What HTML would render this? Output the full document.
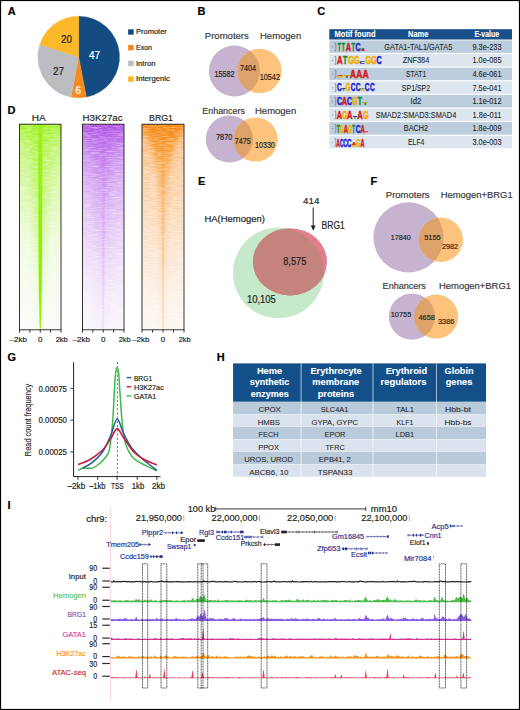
<!DOCTYPE html>
<html><head><meta charset="utf-8"><style>
html,body{margin:0;padding:0;background:#fff;}
svg{display:block;font-family:"Liberation Sans", sans-serif;}
</style></head><body>
<svg width="520" height="710" viewBox="0 0 520 710">
<rect x="0" y="0" width="520" height="710" fill="#fff"/>
<text x="7.7" y="14.8" font-size="11" text-anchor="start" fill="#000" font-weight="bold" stroke="#000" stroke-width="0.18">A</text>
<path d="M78.7,57.0 L78.70,16.20 A40.8,40.8 0 0 1 86.35,97.08 Z" fill="#124c80" stroke="#124c80" stroke-width="0.4" stroke-linejoin="round"/>
<path d="M78.7,57.0 L86.35,97.08 A40.8,40.8 0 0 1 71.05,97.08 Z" fill="#f68b1f" stroke="#f68b1f" stroke-width="0.4" stroke-linejoin="round"/>
<path d="M78.7,57.0 L71.05,97.08 A40.8,40.8 0 0 1 39.90,44.39 Z" fill="#bcbdc1" stroke="#bcbdc1" stroke-width="0.4" stroke-linejoin="round"/>
<path d="M78.7,57.0 L39.90,44.39 A40.8,40.8 0 0 1 78.70,16.20 Z" fill="#fbb829" stroke="#fbb829" stroke-width="0.4" stroke-linejoin="round"/>
<text x="94.6" y="58.8" font-size="10" text-anchor="middle" fill="#fff" font-weight="normal" stroke="#fff" stroke-width="0.18">47</text>
<text x="78.2" y="93.9" font-size="10" text-anchor="middle" fill="#fff" font-weight="normal" stroke="#fff" stroke-width="0.18">6</text>
<text x="58.5" y="74.7" font-size="10" text-anchor="middle" fill="#231f20" font-weight="normal" stroke="#231f20" stroke-width="0.18">27</text>
<text x="66.6" y="43.4" font-size="10" text-anchor="middle" fill="#231f20" font-weight="normal" stroke="#231f20" stroke-width="0.18">20</text>
<rect x="128.1" y="29.3" width="5.6" height="5.4" fill="#124c80"/>
<text x="136" y="34.2" font-size="7.2" text-anchor="start" fill="#231f20" font-weight="normal" textLength="30.8" lengthAdjust="spacingAndGlyphs" stroke="#231f20" stroke-width="0.18">Promoter</text>
<rect x="128.1" y="45.0" width="5.6" height="5.4" fill="#f68b1f"/>
<text x="136" y="49.9" font-size="7.2" text-anchor="start" fill="#231f20" font-weight="normal" textLength="16" lengthAdjust="spacingAndGlyphs" stroke="#231f20" stroke-width="0.18">Exon</text>
<rect x="128.1" y="60.7" width="5.6" height="5.4" fill="#bcbdc1"/>
<text x="136" y="65.6" font-size="7.2" text-anchor="start" fill="#231f20" font-weight="normal" textLength="19.5" lengthAdjust="spacingAndGlyphs" stroke="#231f20" stroke-width="0.18">Intron</text>
<rect x="128.1" y="76.4" width="5.6" height="5.4" fill="#fbb829"/>
<text x="136" y="81.3" font-size="7.2" text-anchor="start" fill="#231f20" font-weight="normal" textLength="33.8" lengthAdjust="spacingAndGlyphs" stroke="#231f20" stroke-width="0.18">Intergenic</text>
<text x="197.6" y="14.9" font-size="11" text-anchor="start" fill="#000" font-weight="bold" stroke="#000" stroke-width="0.18">B</text>
<text x="204.8" y="39.2" font-size="9" text-anchor="start" fill="#3a3a3a" font-weight="normal" textLength="44" lengthAdjust="spacingAndGlyphs" stroke="#3a3a3a" stroke-width="0.18">Promoters</text>
<text x="260" y="39.2" font-size="9" text-anchor="start" fill="#3a3a3a" font-weight="normal" textLength="41.2" lengthAdjust="spacingAndGlyphs" stroke="#3a3a3a" stroke-width="0.18">Hemogen</text>
<clipPath id="b1"><circle cx="234.4" cy="71" r="25.5"/></clipPath>
<circle cx="234.4" cy="71" r="25.5" fill="#c6b3cf"/>
<circle cx="259.5" cy="71" r="22.2" fill="#fdc27b"/>
<circle cx="259.5" cy="71" r="22.2" fill="#dea36b" clip-path="url(#b1)"/>
<text x="224.6" y="77.0" font-size="8.3" text-anchor="middle" fill="#231f20" font-weight="normal" textLength="20" lengthAdjust="spacingAndGlyphs" stroke="#231f20" stroke-width="0.18">15582</text>
<text x="248" y="71.0" font-size="8.3" text-anchor="middle" fill="#231f20" font-weight="normal" textLength="16" lengthAdjust="spacingAndGlyphs" stroke="#231f20" stroke-width="0.18">7404</text>
<text x="269.8" y="80.0" font-size="8.3" text-anchor="middle" fill="#231f20" font-weight="normal" textLength="20.3" lengthAdjust="spacingAndGlyphs" stroke="#231f20" stroke-width="0.18">10542</text>
<text x="202.3" y="113.8" font-size="9" text-anchor="start" fill="#3a3a3a" font-weight="normal" textLength="42.6" lengthAdjust="spacingAndGlyphs" stroke="#3a3a3a" stroke-width="0.18">Enhancers</text>
<text x="255" y="113.8" font-size="9" text-anchor="start" fill="#3a3a3a" font-weight="normal" textLength="41.2" lengthAdjust="spacingAndGlyphs" stroke="#3a3a3a" stroke-width="0.18">Hemogen</text>
<clipPath id="b2"><circle cx="229.4" cy="139" r="23.6"/></clipPath>
<circle cx="229.4" cy="139" r="23.6" fill="#c6b3cf"/>
<circle cx="255.6" cy="139.5" r="22.1" fill="#fdc27b"/>
<circle cx="255.6" cy="139.5" r="22.1" fill="#dea36b" clip-path="url(#b2)"/>
<text x="224.2" y="139.6" font-size="8.3" text-anchor="middle" fill="#231f20" font-weight="normal" textLength="16.5" lengthAdjust="spacingAndGlyphs" stroke="#231f20" stroke-width="0.18">7870</text>
<text x="242.7" y="144.0" font-size="8.3" text-anchor="middle" fill="#231f20" font-weight="normal" textLength="16" lengthAdjust="spacingAndGlyphs" stroke="#231f20" stroke-width="0.18">7475</text>
<text x="264.9" y="147.7" font-size="8.3" text-anchor="middle" fill="#231f20" font-weight="normal" textLength="19.8" lengthAdjust="spacingAndGlyphs" stroke="#231f20" stroke-width="0.18">10330</text>
<text x="317.2" y="15.2" font-size="11" text-anchor="start" fill="#000" font-weight="bold" stroke="#000" stroke-width="0.18">C</text>
<rect x="329.3" y="29.2" width="182.7" height="10.3" fill="#194f88"/>
<text x="355" y="36.6" font-size="8.2" text-anchor="middle" fill="#fff" font-weight="bold" textLength="41" lengthAdjust="spacingAndGlyphs" stroke="#fff" stroke-width="0.1">Motif found</text>
<text x="418.2" y="36.6" font-size="8.2" text-anchor="middle" fill="#fff" font-weight="bold" textLength="20.3" lengthAdjust="spacingAndGlyphs" stroke="#fff" stroke-width="0.1">Name</text>
<text x="486.8" y="36.6" font-size="8.2" text-anchor="middle" fill="#fff" font-weight="bold" textLength="24.8" lengthAdjust="spacingAndGlyphs" stroke="#fff" stroke-width="0.1">E-value</text>
<rect x="329.3" y="40.40" width="182.7" height="12.5" fill="#bccddd"/>
<text x="418.3" y="49.6" font-size="8.6" text-anchor="middle" fill="#222" font-weight="normal" textLength="67.9" lengthAdjust="spacingAndGlyphs" stroke="#222" stroke-width="0.08">GATA1-TAL1/GATA5</text>
<text x="487" y="49.6" font-size="8.6" text-anchor="middle" fill="#222" font-weight="normal" textLength="29" lengthAdjust="spacingAndGlyphs" stroke="#222" stroke-width="0.08">9.3e-233</text>
<path d="M331.9,46.9 h1.3 M334.5,43.0 h1.3 v7.6 h-1.3" stroke="#707070" stroke-width="0.7" fill="none"/>
<rect x="329.3" y="54.03" width="182.7" height="12.5" fill="#dde6ef"/>
<text x="416" y="63.2" font-size="8.6" text-anchor="middle" fill="#222" font-weight="normal" textLength="26.7" lengthAdjust="spacingAndGlyphs" stroke="#222" stroke-width="0.08">ZNF384</text>
<text x="487" y="63.2" font-size="8.6" text-anchor="middle" fill="#222" font-weight="normal" textLength="29" lengthAdjust="spacingAndGlyphs" stroke="#222" stroke-width="0.08">1.0e-085</text>
<path d="M331.9,60.5 h1.3 M334.5,56.6 h1.3 v7.6 h-1.3" stroke="#707070" stroke-width="0.7" fill="none"/>
<rect x="329.3" y="67.66" width="182.7" height="12.5" fill="#bccddd"/>
<text x="416.1" y="76.9" font-size="8.6" text-anchor="middle" fill="#222" font-weight="normal" textLength="20.2" lengthAdjust="spacingAndGlyphs" stroke="#222" stroke-width="0.08">STAT1</text>
<text x="487" y="76.9" font-size="8.6" text-anchor="middle" fill="#222" font-weight="normal" textLength="29" lengthAdjust="spacingAndGlyphs" stroke="#222" stroke-width="0.08">4.6e-061</text>
<path d="M331.9,74.2 h1.3 M334.5,70.3 h1.3 v7.6 h-1.3" stroke="#707070" stroke-width="0.7" fill="none"/>
<rect x="329.3" y="81.29" width="182.7" height="12.5" fill="#dde6ef"/>
<text x="416" y="90.5" font-size="8.6" text-anchor="middle" fill="#222" font-weight="normal" textLength="28.3" lengthAdjust="spacingAndGlyphs" stroke="#222" stroke-width="0.08">SP1/SP2</text>
<text x="487" y="90.5" font-size="8.6" text-anchor="middle" fill="#222" font-weight="normal" textLength="29" lengthAdjust="spacingAndGlyphs" stroke="#222" stroke-width="0.08">7.5e-041</text>
<path d="M331.9,87.8 h1.3 M334.5,83.9 h1.3 v7.6 h-1.3" stroke="#707070" stroke-width="0.7" fill="none"/>
<rect x="329.3" y="94.92" width="182.7" height="12.5" fill="#bccddd"/>
<text x="415.9" y="104.1" font-size="8.6" text-anchor="middle" fill="#222" font-weight="normal" textLength="10.8" lengthAdjust="spacingAndGlyphs" stroke="#222" stroke-width="0.08">Id2</text>
<text x="487" y="104.1" font-size="8.6" text-anchor="middle" fill="#222" font-weight="normal" textLength="29" lengthAdjust="spacingAndGlyphs" stroke="#222" stroke-width="0.08">1.1e-012</text>
<path d="M331.9,101.4 h1.3 M334.5,97.5 h1.3 v7.6 h-1.3" stroke="#707070" stroke-width="0.7" fill="none"/>
<rect x="329.3" y="108.55" width="182.7" height="12.5" fill="#dde6ef"/>
<text x="416" y="117.8" font-size="8.6" text-anchor="middle" fill="#222" font-weight="normal" textLength="80.5" lengthAdjust="spacingAndGlyphs" stroke="#222" stroke-width="0.08">SMAD2:SMAD3:SMAD4</text>
<text x="487" y="117.8" font-size="8.6" text-anchor="middle" fill="#222" font-weight="normal" textLength="29" lengthAdjust="spacingAndGlyphs" stroke="#222" stroke-width="0.08">1.8e-011</text>
<path d="M331.9,115.1 h1.3 M334.5,111.2 h1.3 v7.6 h-1.3" stroke="#707070" stroke-width="0.7" fill="none"/>
<rect x="329.3" y="122.18" width="182.7" height="12.5" fill="#bccddd"/>
<text x="415.9" y="131.4" font-size="8.6" text-anchor="middle" fill="#222" font-weight="normal" textLength="24.2" lengthAdjust="spacingAndGlyphs" stroke="#222" stroke-width="0.08">BACH2</text>
<text x="487" y="131.4" font-size="8.6" text-anchor="middle" fill="#222" font-weight="normal" textLength="29" lengthAdjust="spacingAndGlyphs" stroke="#222" stroke-width="0.08">1.8e-009</text>
<path d="M331.9,128.7 h1.3 M334.5,124.8 h1.3 v7.6 h-1.3" stroke="#707070" stroke-width="0.7" fill="none"/>
<rect x="329.3" y="135.81" width="182.7" height="12.5" fill="#dde6ef"/>
<text x="416.2" y="145.0" font-size="8.6" text-anchor="middle" fill="#222" font-weight="normal" textLength="16.2" lengthAdjust="spacingAndGlyphs" stroke="#222" stroke-width="0.08">ELF4</text>
<text x="487" y="145.0" font-size="8.6" text-anchor="middle" fill="#222" font-weight="normal" textLength="29" lengthAdjust="spacingAndGlyphs" stroke="#222" stroke-width="0.08">3.0e-003</text>
<path d="M331.9,142.3 h1.3 M334.5,138.4 h1.3 v7.6 h-1.3" stroke="#707070" stroke-width="0.7" fill="none"/>
<text transform="translate(337.65,50.60) scale(0.492,1.047)" font-size="10.0" font-weight="bold" fill="#0f8a2e" stroke="#0f8a2e" stroke-width="0.5">T</text>
<text transform="translate(341.64,50.60) scale(0.508,1.047)" font-size="10.0" font-weight="bold" fill="#0f8a2e" stroke="#0f8a2e" stroke-width="0.5">T</text>
<text transform="translate(345.72,50.60) scale(0.729,1.047)" font-size="10.0" font-weight="bold" fill="#d7191c" stroke="#d7191c" stroke-width="0.5">A</text>
<text transform="translate(351.54,50.60) scale(0.576,1.047)" font-size="10.0" font-weight="bold" fill="#0f8a2e" stroke="#0f8a2e" stroke-width="0.5">T</text>
<text transform="translate(355.51,50.60) scale(0.703,1.047)" font-size="10.0" font-weight="bold" fill="#1f1fd0" stroke="#1f1fd0" stroke-width="0.5">C</text>
<text transform="translate(360.86,50.60) scale(0.580,0.276)" font-size="10.0" font-weight="bold" fill="#d7191c" stroke="#d7191c" stroke-width="0.5">A</text>
<text transform="translate(360.93,48.60) scale(0.661,0.233)" font-size="10.0" font-weight="bold" fill="#0f8a2e" stroke="#0f8a2e" stroke-width="0.5">T</text>
<text transform="translate(337.01,63.60) scale(0.789,1.047)" font-size="10.0" font-weight="bold" fill="#d7191c" stroke="#d7191c" stroke-width="0.5">A</text>
<text transform="translate(342.92,63.60) scale(0.695,1.047)" font-size="10.0" font-weight="bold" fill="#0f8a2e" stroke="#0f8a2e" stroke-width="0.5">T</text>
<text transform="translate(347.97,63.60) scale(0.815,1.047)" font-size="10.0" font-weight="bold" fill="#f2a900" stroke="#f2a900" stroke-width="0.5">G</text>
<text transform="translate(354.22,63.60) scale(0.681,1.047)" font-size="10.0" font-weight="bold" fill="#f2a900" stroke="#f2a900" stroke-width="0.5">G</text>
<text transform="translate(359.50,63.60) scale(0.734,0.276)" font-size="10.0" font-weight="bold" fill="#1f1fd0" stroke="#1f1fd0" stroke-width="0.5">C</text>
<text transform="translate(359.71,61.60) scale(0.814,0.233)" font-size="10.0" font-weight="bold" fill="#0f8a2e" stroke="#0f8a2e" stroke-width="0.5">T</text>
<text transform="translate(365.50,63.60) scale(0.726,1.047)" font-size="10.0" font-weight="bold" fill="#f2a900" stroke="#f2a900" stroke-width="0.5">G</text>
<text transform="translate(370.99,63.60) scale(0.756,1.047)" font-size="10.0" font-weight="bold" fill="#f2a900" stroke="#f2a900" stroke-width="0.5">G</text>
<text transform="translate(376.61,63.60) scale(0.719,1.047)" font-size="10.0" font-weight="bold" fill="#1f1fd0" stroke="#1f1fd0" stroke-width="0.5">C</text>
<text transform="translate(337.39,77.60) scale(0.756,0.276)" font-size="10.0" font-weight="bold" fill="#f2a900" stroke="#f2a900" stroke-width="0.5">G</text>
<text transform="translate(337.52,75.60) scale(0.759,0.233)" font-size="10.0" font-weight="bold" fill="#d7191c" stroke="#d7191c" stroke-width="0.5">A</text>
<text transform="translate(343.90,77.60) scale(0.932,0.276)" font-size="10.0" font-weight="bold" fill="#0f8a2e" stroke="#0f8a2e" stroke-width="0.5">T</text>
<text transform="translate(343.67,75.60) scale(0.815,0.233)" font-size="10.0" font-weight="bold" fill="#f2a900" stroke="#f2a900" stroke-width="0.5">G</text>
<text transform="translate(350.00,77.60) scale(0.833,1.047)" font-size="10.0" font-weight="bold" fill="#d7191c" stroke="#d7191c" stroke-width="0.5">A</text>
<text transform="translate(356.20,77.60) scale(0.833,1.047)" font-size="10.0" font-weight="bold" fill="#d7191c" stroke="#d7191c" stroke-width="0.5">A</text>
<text transform="translate(362.49,77.60) scale(0.863,1.047)" font-size="10.0" font-weight="bold" fill="#d7191c" stroke="#d7191c" stroke-width="0.5">A</text>
<text transform="translate(336.93,91.00) scale(0.657,1.047)" font-size="10.0" font-weight="bold" fill="#1f1fd0" stroke="#1f1fd0" stroke-width="0.5">C</text>
<text transform="translate(341.63,91.00) scale(0.593,0.276)" font-size="10.0" font-weight="bold" fill="#0f8a2e" stroke="#0f8a2e" stroke-width="0.5">T</text>
<text transform="translate(341.48,89.00) scale(0.535,0.233)" font-size="10.0" font-weight="bold" fill="#1f1fd0" stroke="#1f1fd0" stroke-width="0.5">C</text>
<text transform="translate(345.65,91.00) scale(0.607,1.047)" font-size="10.0" font-weight="bold" fill="#f2a900" stroke="#f2a900" stroke-width="0.5">G</text>
<text transform="translate(350.73,91.00) scale(0.657,1.047)" font-size="10.0" font-weight="bold" fill="#1f1fd0" stroke="#1f1fd0" stroke-width="0.5">C</text>
<text transform="translate(355.72,91.00) scale(0.673,1.047)" font-size="10.0" font-weight="bold" fill="#1f1fd0" stroke="#1f1fd0" stroke-width="0.5">C</text>
<text transform="translate(360.58,91.00) scale(0.533,0.276)" font-size="10.0" font-weight="bold" fill="#f2a900" stroke="#f2a900" stroke-width="0.5">G</text>
<text transform="translate(360.73,89.00) scale(0.610,0.233)" font-size="10.0" font-weight="bold" fill="#0f8a2e" stroke="#0f8a2e" stroke-width="0.5">T</text>
<text transform="translate(364.83,91.00) scale(0.657,1.047)" font-size="10.0" font-weight="bold" fill="#1f1fd0" stroke="#1f1fd0" stroke-width="0.5">C</text>
<text transform="translate(369.93,91.00) scale(0.657,1.047)" font-size="10.0" font-weight="bold" fill="#1f1fd0" stroke="#1f1fd0" stroke-width="0.5">C</text>
<text transform="translate(336.91,105.30) scale(0.703,1.047)" font-size="10.0" font-weight="bold" fill="#1f1fd0" stroke="#1f1fd0" stroke-width="0.5">C</text>
<text transform="translate(341.82,105.30) scale(0.759,1.047)" font-size="10.0" font-weight="bold" fill="#d7191c" stroke="#d7191c" stroke-width="0.5">A</text>
<text transform="translate(347.01,105.30) scale(0.703,1.047)" font-size="10.0" font-weight="bold" fill="#1f1fd0" stroke="#1f1fd0" stroke-width="0.5">C</text>
<text transform="translate(352.32,105.30) scale(0.681,1.047)" font-size="10.0" font-weight="bold" fill="#f2a900" stroke="#f2a900" stroke-width="0.5">G</text>
<text transform="translate(357.82,105.30) scale(0.695,1.047)" font-size="10.0" font-weight="bold" fill="#0f8a2e" stroke="#0f8a2e" stroke-width="0.5">T</text>
<text transform="translate(362.60,105.30) scale(0.864,0.276)" font-size="10.0" font-weight="bold" fill="#0f8a2e" stroke="#0f8a2e" stroke-width="0.5">T</text>
<text transform="translate(362.39,103.30) scale(0.756,0.233)" font-size="10.0" font-weight="bold" fill="#f2a900" stroke="#f2a900" stroke-width="0.5">G</text>
<text transform="translate(336.72,119.20) scale(0.729,1.047)" font-size="10.0" font-weight="bold" fill="#d7191c" stroke="#d7191c" stroke-width="0.5">A</text>
<text transform="translate(342.22,119.20) scale(0.681,1.047)" font-size="10.0" font-weight="bold" fill="#f2a900" stroke="#f2a900" stroke-width="0.5">G</text>
<text transform="translate(347.12,119.20) scale(0.759,1.047)" font-size="10.0" font-weight="bold" fill="#d7191c" stroke="#d7191c" stroke-width="0.5">A</text>
<text transform="translate(353.03,119.20) scale(0.610,0.276)" font-size="10.0" font-weight="bold" fill="#0f8a2e" stroke="#0f8a2e" stroke-width="0.5">T</text>
<text transform="translate(352.87,117.20) scale(0.550,0.233)" font-size="10.0" font-weight="bold" fill="#1f1fd0" stroke="#1f1fd0" stroke-width="0.5">C</text>
<text transform="translate(357.22,119.20) scale(0.759,1.047)" font-size="10.0" font-weight="bold" fill="#d7191c" stroke="#d7191c" stroke-width="0.5">A</text>
<text transform="translate(362.90,119.20) scale(0.726,1.047)" font-size="10.0" font-weight="bold" fill="#f2a900" stroke="#f2a900" stroke-width="0.5">G</text>
<text transform="translate(336.84,133.30) scale(0.508,1.047)" font-size="10.0" font-weight="bold" fill="#0f8a2e" stroke="#0f8a2e" stroke-width="0.5">T</text>
<text transform="translate(339.91,133.30) scale(0.474,1.047)" font-size="10.0" font-weight="bold" fill="#f2a900" stroke="#f2a900" stroke-width="0.5">G</text>
<text transform="translate(343.86,133.30) scale(0.580,1.047)" font-size="10.0" font-weight="bold" fill="#d7191c" stroke="#d7191c" stroke-width="0.5">A</text>
<text transform="translate(348.31,133.30) scale(0.474,1.047)" font-size="10.0" font-weight="bold" fill="#f2a900" stroke="#f2a900" stroke-width="0.5">G</text>
<text transform="translate(352.25,133.30) scale(0.458,1.047)" font-size="10.0" font-weight="bold" fill="#0f8a2e" stroke="#0f8a2e" stroke-width="0.5">T</text>
<text transform="translate(355.72,133.30) scale(0.673,1.047)" font-size="10.0" font-weight="bold" fill="#1f1fd0" stroke="#1f1fd0" stroke-width="0.5">C</text>
<text transform="translate(360.46,133.30) scale(0.595,1.047)" font-size="10.0" font-weight="bold" fill="#d7191c" stroke="#d7191c" stroke-width="0.5">A</text>
<text transform="translate(364.91,133.30) scale(0.474,0.145)" font-size="10.0" font-weight="bold" fill="#f2a900" stroke="#f2a900" stroke-width="0.5">G</text>
<text transform="translate(364.99,132.30) scale(0.476,0.131)" font-size="10.0" font-weight="bold" fill="#d7191c" stroke="#d7191c" stroke-width="0.5">A</text>
<text transform="translate(336.17,147.20) scale(0.536,1.047)" font-size="10.0" font-weight="bold" fill="#d7191c" stroke="#d7191c" stroke-width="0.5">A</text>
<text transform="translate(339.90,147.20) scale(0.489,1.047)" font-size="10.0" font-weight="bold" fill="#1f1fd0" stroke="#1f1fd0" stroke-width="0.5">C</text>
<text transform="translate(343.27,147.20) scale(0.550,1.047)" font-size="10.0" font-weight="bold" fill="#1f1fd0" stroke="#1f1fd0" stroke-width="0.5">C</text>
<text transform="translate(347.04,147.20) scale(0.627,1.047)" font-size="10.0" font-weight="bold" fill="#1f1fd0" stroke="#1f1fd0" stroke-width="0.5">C</text>
<text transform="translate(351.88,147.20) scale(0.548,0.262)" font-size="10.0" font-weight="bold" fill="#f2a900" stroke="#f2a900" stroke-width="0.5">G</text>
<text transform="translate(351.97,145.40) scale(0.551,0.320)" font-size="10.0" font-weight="bold" fill="#d7191c" stroke="#d7191c" stroke-width="0.5">A</text>
<text transform="translate(356.16,147.20) scale(0.593,1.047)" font-size="10.0" font-weight="bold" fill="#f2a900" stroke="#f2a900" stroke-width="0.5">G</text>
<text transform="translate(360.46,147.20) scale(0.565,1.047)" font-size="10.0" font-weight="bold" fill="#d7191c" stroke="#d7191c" stroke-width="0.5">A</text>
<filter id="streak" x="0" y="0" width="1" height="1"><feTurbulence type="fractalNoise" baseFrequency="0.12 0.8" numOctaves="2" seed="5"/><feColorMatrix type="matrix" values="0 0 0 0 1  0 0 0 0 1  0 0 0 0 1  0 0 0 1.0 -0.42"/></filter>
<filter id="blur0.35" x="-50%" y="-5%" width="200%" height="110%"><feGaussianBlur stdDeviation="0.35"/></filter>
<filter id="blur0.6" x="-50%" y="-5%" width="200%" height="110%"><feGaussianBlur stdDeviation="0.6"/></filter>
<filter id="blur1" x="-50%" y="-5%" width="200%" height="110%"><feGaussianBlur stdDeviation="1"/></filter>
<filter id="blur2" x="-50%" y="-5%" width="200%" height="110%"><feGaussianBlur stdDeviation="2"/></filter>
<filter id="blur2.5" x="-50%" y="-5%" width="200%" height="110%"><feGaussianBlur stdDeviation="2.5"/></filter>
<filter id="blur3" x="-50%" y="-5%" width="200%" height="110%"><feGaussianBlur stdDeviation="3"/></filter>
<filter id="blur4" x="-50%" y="-5%" width="200%" height="110%"><feGaussianBlur stdDeviation="4"/></filter>
<text x="7.5" y="114.2" font-size="11" text-anchor="start" fill="#000" font-weight="bold" stroke="#000" stroke-width="0.18">D</text>
<text x="38.8" y="121" font-size="9.5" text-anchor="middle" fill="#231f20" font-weight="normal" textLength="14" lengthAdjust="spacingAndGlyphs" stroke="#231f20" stroke-width="0.18">HA</text>
<text x="102.6" y="121" font-size="9.5" text-anchor="middle" fill="#231f20" font-weight="normal" textLength="40" lengthAdjust="spacingAndGlyphs" stroke="#231f20" stroke-width="0.18">H3K27ac</text>
<text x="161" y="121" font-size="9.5" text-anchor="middle" fill="#231f20" font-weight="normal" textLength="24" lengthAdjust="spacingAndGlyphs" stroke="#231f20" stroke-width="0.18">BRG1</text>
<linearGradient id="hgv" x1="0" y1="0" x2="0" y2="1"><stop offset="0" stop-color="rgb(165,242,45)" stop-opacity="1"/><stop offset="0.04" stop-color="rgb(165,242,45)" stop-opacity="0.85"/><stop offset="0.12" stop-color="rgb(165,242,45)" stop-opacity="0.62"/><stop offset="0.25" stop-color="rgb(165,242,45)" stop-opacity="0.45"/><stop offset="0.4" stop-color="rgb(165,242,45)" stop-opacity="0.3"/><stop offset="0.55" stop-color="rgb(165,242,45)" stop-opacity="0.17"/><stop offset="0.75" stop-color="rgb(165,242,45)" stop-opacity="0.06"/><stop offset="1" stop-color="rgb(165,242,45)" stop-opacity="0.02"/></linearGradient>
<linearGradient id="hgg" x1="0" y1="0" x2="0" y2="1"><stop offset="0" stop-color="rgb(142,240,0)" stop-opacity="0.25"/><stop offset="0.3" stop-color="rgb(142,240,0)" stop-opacity="0.3"/><stop offset="0.7" stop-color="rgb(142,240,0)" stop-opacity="0.18"/><stop offset="1" stop-color="rgb(142,240,0)" stop-opacity="0.1"/></linearGradient>
<linearGradient id="hgs" x1="0" y1="0" x2="0" y2="1"><stop offset="0" stop-color="rgb(142,240,0)" stop-opacity="0.35"/><stop offset="0.15" stop-color="rgb(142,240,0)" stop-opacity="0.75"/><stop offset="0.5" stop-color="rgb(142,240,0)" stop-opacity="0.95"/><stop offset="1" stop-color="rgb(142,240,0)" stop-opacity="1"/></linearGradient>
<clipPath id="hgclip"><rect x="19.5" y="124.2" width="41.5" height="205.60000000000002"/></clipPath>
<g clip-path="url(#hgclip)">
<rect x="19.5" y="124.2" width="41.5" height="205.60000000000002" fill="#fcfcfc"/>
<rect x="19.5" y="124.2" width="41.5" height="205.60000000000002" fill="url(#hgv)"/>
<polygon points="28.25,119.2 52.25,119.2 42.25,329.8 38.25,329.8" fill="url(#hgg)" filter="url(#blur3)"/>
<rect x="19.5" y="124.2" width="41.5" height="205.60000000000002" fill="#fff" filter="url(#streak)"/>
<polygon points="38.05,120.00 38.25,180.00 38.45,250.00 38.75,290.00 39.85,331.00 40.65,331.00 41.75,290.00 42.05,250.00 42.25,180.00 42.45,120.00" fill="url(#hgs)" filter="url(#blur0.35)"/>
</g>
<rect x="19.5" y="124.2" width="41.5" height="205.60000000000002" fill="none" stroke="#231f20" stroke-width="0.9"/>
<line x1="19.50" y1="329.8" x2="19.50" y2="332.6" stroke="#231f20" stroke-width="0.9"/>
<line x1="29.88" y1="329.8" x2="29.88" y2="332.6" stroke="#231f20" stroke-width="0.9"/>
<line x1="40.25" y1="329.8" x2="40.25" y2="332.6" stroke="#231f20" stroke-width="0.9"/>
<line x1="50.62" y1="329.8" x2="50.62" y2="332.6" stroke="#231f20" stroke-width="0.9"/>
<line x1="61.00" y1="329.8" x2="61.00" y2="332.6" stroke="#231f20" stroke-width="0.9"/>
<text x="18.3" y="342.3" font-size="8" text-anchor="middle" fill="#231f20" font-weight="normal" textLength="17.4" lengthAdjust="spacingAndGlyphs" stroke="#231f20" stroke-width="0.18">–2kb</text>
<text x="40.2" y="342.3" font-size="8" text-anchor="middle" fill="#231f20" font-weight="normal" stroke="#231f20" stroke-width="0.18">0</text>
<text x="61.7" y="342.3" font-size="8" text-anchor="middle" fill="#231f20" font-weight="normal" textLength="11.9" lengthAdjust="spacingAndGlyphs" stroke="#231f20" stroke-width="0.18">2kb</text>
<linearGradient id="hpv" x1="0" y1="0" x2="0" y2="1"><stop offset="0" stop-color="rgb(176,82,232)" stop-opacity="1"/><stop offset="0.05" stop-color="rgb(176,82,232)" stop-opacity="0.8"/><stop offset="0.15" stop-color="rgb(176,82,232)" stop-opacity="0.58"/><stop offset="0.3" stop-color="rgb(176,82,232)" stop-opacity="0.42"/><stop offset="0.5" stop-color="rgb(176,82,232)" stop-opacity="0.27"/><stop offset="0.7" stop-color="rgb(176,82,232)" stop-opacity="0.15"/><stop offset="0.85" stop-color="rgb(176,82,232)" stop-opacity="0.08"/><stop offset="1" stop-color="rgb(176,82,232)" stop-opacity="0.04"/></linearGradient>
<linearGradient id="hpg" x1="0" y1="0" x2="0" y2="1"><stop offset="0" stop-color="rgb(176,82,232)" stop-opacity="0.5"/><stop offset="0.15" stop-color="rgb(176,82,232)" stop-opacity="0.32"/><stop offset="0.35" stop-color="rgb(176,82,232)" stop-opacity="0.2"/><stop offset="0.6" stop-color="rgb(176,82,232)" stop-opacity="0.1"/><stop offset="1" stop-color="rgb(176,82,232)" stop-opacity="0.04"/></linearGradient>
<linearGradient id="hps" x1="0" y1="0" x2="0" y2="1"><stop offset="0" stop-color="rgb(176,82,232)" stop-opacity="0.1"/><stop offset="0.5" stop-color="rgb(176,82,232)" stop-opacity="0.14"/><stop offset="1" stop-color="rgb(176,82,232)" stop-opacity="0.1"/></linearGradient>
<clipPath id="hpclip"><rect x="82.5" y="124.2" width="41.5" height="205.60000000000002"/></clipPath>
<g clip-path="url(#hpclip)">
<rect x="82.5" y="124.2" width="41.5" height="205.60000000000002" fill="#fcfcfc"/>
<rect x="82.5" y="124.2" width="41.5" height="205.60000000000002" fill="url(#hpv)"/>
<polygon points="81.25,119.00 86.25,135.00 92.25,160.00 95.75,200.00 98.25,260.00 99.75,331.00 106.75,331.00 108.25,260.00 110.75,200.00 114.25,160.00 120.25,135.00 125.25,119.00" fill="url(#hpg)" filter="url(#blur4)"/>
<rect x="82.5" y="124.2" width="41.5" height="205.60000000000002" fill="#fff" filter="url(#streak)"/>
<polygon points="101.25,119.2 105.25,119.2 104.00,331.8 102.50,331.8" fill="url(#hps)" filter="url(#blur0.6)"/>
</g>
<rect x="82.5" y="124.2" width="41.5" height="205.60000000000002" fill="none" stroke="#231f20" stroke-width="0.9"/>
<line x1="82.50" y1="329.8" x2="82.50" y2="332.6" stroke="#231f20" stroke-width="0.9"/>
<line x1="92.88" y1="329.8" x2="92.88" y2="332.6" stroke="#231f20" stroke-width="0.9"/>
<line x1="103.25" y1="329.8" x2="103.25" y2="332.6" stroke="#231f20" stroke-width="0.9"/>
<line x1="113.62" y1="329.8" x2="113.62" y2="332.6" stroke="#231f20" stroke-width="0.9"/>
<line x1="124.00" y1="329.8" x2="124.00" y2="332.6" stroke="#231f20" stroke-width="0.9"/>
<text x="81.3" y="342.3" font-size="8" text-anchor="middle" fill="#231f20" font-weight="normal" textLength="17.4" lengthAdjust="spacingAndGlyphs" stroke="#231f20" stroke-width="0.18">–2kb</text>
<text x="103.2" y="342.3" font-size="8" text-anchor="middle" fill="#231f20" font-weight="normal" stroke="#231f20" stroke-width="0.18">0</text>
<text x="124.7" y="342.3" font-size="8" text-anchor="middle" fill="#231f20" font-weight="normal" textLength="11.9" lengthAdjust="spacingAndGlyphs" stroke="#231f20" stroke-width="0.18">2kb</text>
<linearGradient id="hov" x1="0" y1="0" x2="0" y2="1"><stop offset="0" stop-color="rgb(247,137,25)" stop-opacity="0.95"/><stop offset="0.03" stop-color="rgb(247,137,25)" stop-opacity="0.75"/><stop offset="0.1" stop-color="rgb(247,137,25)" stop-opacity="0.52"/><stop offset="0.25" stop-color="rgb(247,137,25)" stop-opacity="0.38"/><stop offset="0.5" stop-color="rgb(247,137,25)" stop-opacity="0.25"/><stop offset="0.7" stop-color="rgb(247,137,25)" stop-opacity="0.15"/><stop offset="0.85" stop-color="rgb(247,137,25)" stop-opacity="0.08"/><stop offset="1" stop-color="rgb(247,137,25)" stop-opacity="0.04"/></linearGradient>
<linearGradient id="hog" x1="0" y1="0" x2="0" y2="1"><stop offset="0" stop-color="rgb(248,135,10)" stop-opacity="0.9"/><stop offset="0.1" stop-color="rgb(248,135,10)" stop-opacity="0.7"/><stop offset="0.2" stop-color="rgb(248,135,10)" stop-opacity="0.42"/><stop offset="0.35" stop-color="rgb(248,135,10)" stop-opacity="0.22"/><stop offset="0.6" stop-color="rgb(248,135,10)" stop-opacity="0.12"/><stop offset="1" stop-color="rgb(248,135,10)" stop-opacity="0.06"/></linearGradient>
<linearGradient id="hos" x1="0" y1="0" x2="0" y2="1"><stop offset="0" stop-color="rgb(248,135,10)" stop-opacity="0.2"/><stop offset="0.5" stop-color="rgb(248,135,10)" stop-opacity="0.2"/><stop offset="1" stop-color="rgb(248,135,10)" stop-opacity="0.18"/></linearGradient>
<clipPath id="hoclip"><rect x="142" y="124.2" width="42" height="205.60000000000002"/></clipPath>
<g clip-path="url(#hoclip)">
<rect x="142" y="124.2" width="42" height="205.60000000000002" fill="#fcfcfc"/>
<rect x="142" y="124.2" width="42" height="205.60000000000002" fill="url(#hov)"/>
<polygon points="139.00,119.00 144.00,128.00 150.00,140.00 154.00,155.00 157.00,175.00 158.50,210.00 159.50,260.00 160.50,331.00 165.50,331.00 166.50,260.00 167.50,210.00 169.00,175.00 172.00,155.00 176.00,140.00 182.00,128.00 187.00,119.00" fill="url(#hog)" filter="url(#blur2)"/>
<rect x="142" y="124.2" width="42" height="205.60000000000002" fill="#fff" filter="url(#streak)"/>
<polygon points="161.00,119.2 165.00,119.2 163.70,331.8 162.30,331.8" fill="url(#hos)" filter="url(#blur0.6)"/>
</g>
<rect x="142" y="124.2" width="42" height="205.60000000000002" fill="none" stroke="#231f20" stroke-width="0.9"/>
<line x1="142.00" y1="329.8" x2="142.00" y2="332.6" stroke="#231f20" stroke-width="0.9"/>
<line x1="152.50" y1="329.8" x2="152.50" y2="332.6" stroke="#231f20" stroke-width="0.9"/>
<line x1="163.00" y1="329.8" x2="163.00" y2="332.6" stroke="#231f20" stroke-width="0.9"/>
<line x1="173.50" y1="329.8" x2="173.50" y2="332.6" stroke="#231f20" stroke-width="0.9"/>
<line x1="184.00" y1="329.8" x2="184.00" y2="332.6" stroke="#231f20" stroke-width="0.9"/>
<text x="140.8" y="342.3" font-size="8" text-anchor="middle" fill="#231f20" font-weight="normal" textLength="17.4" lengthAdjust="spacingAndGlyphs" stroke="#231f20" stroke-width="0.18">–2kb</text>
<text x="163.0" y="342.3" font-size="8" text-anchor="middle" fill="#231f20" font-weight="normal" stroke="#231f20" stroke-width="0.18">0</text>
<text x="184.7" y="342.3" font-size="8" text-anchor="middle" fill="#231f20" font-weight="normal" textLength="11.9" lengthAdjust="spacingAndGlyphs" stroke="#231f20" stroke-width="0.18">2kb</text>
<text x="198" y="184.6" font-size="11" text-anchor="start" fill="#000" font-weight="bold" stroke="#000" stroke-width="0.18">E</text>
<text x="311.2" y="204.3" font-size="9.8" text-anchor="middle" fill="#231f20" font-weight="normal" textLength="16.2" lengthAdjust="spacingAndGlyphs" stroke="#231f20" stroke-width="0.18">414</text>
<line x1="313.2" y1="207.5" x2="313.2" y2="226" stroke="#231f20" stroke-width="1"/>
<polygon points="310.8,225.5 315.6,225.5 313.2,230.8" fill="#231f20"/>
<text x="321.6" y="229.1" font-size="10" text-anchor="start" fill="#231f20" font-weight="normal" textLength="23.1" lengthAdjust="spacingAndGlyphs" stroke="#231f20" stroke-width="0.18">BRG1</text>
<text x="204.4" y="222.4" font-size="9.6" text-anchor="start" fill="#231f20" font-weight="normal" textLength="60.5" lengthAdjust="spacingAndGlyphs" stroke="#231f20" stroke-width="0.18">HA(Hemogen)</text>
<clipPath id="eg"><circle cx="278.4" cy="272.9" r="45.4"/></clipPath>
<circle cx="278.4" cy="272.9" r="45.4" fill="#c6e9c9"/>
<ellipse cx="290" cy="261.8" rx="37" ry="33.6" fill="#df7f8e"/>
<ellipse cx="290" cy="261.8" rx="37" ry="33.6" fill="#c4847d" clip-path="url(#eg)"/>
<text x="294.8" y="264.8" font-size="10.4" text-anchor="middle" fill="#231f20" font-weight="normal" textLength="23.2" lengthAdjust="spacingAndGlyphs" stroke="#231f20" stroke-width="0.18">8,575</text>
<text x="261.4" y="302.8" font-size="10.4" text-anchor="middle" fill="#231f20" font-weight="normal" textLength="29" lengthAdjust="spacingAndGlyphs" stroke="#231f20" stroke-width="0.18">10,105</text>
<text x="370.6" y="184.7" font-size="11" text-anchor="start" fill="#000" font-weight="bold" stroke="#000" stroke-width="0.18">F</text>
<text x="385.8" y="198.3" font-size="9" text-anchor="start" fill="#3a3a3a" font-weight="normal" textLength="43.8" lengthAdjust="spacingAndGlyphs" stroke="#3a3a3a" stroke-width="0.18">Promoters</text>
<text x="440.7" y="198.3" font-size="9" text-anchor="start" fill="#3a3a3a" font-weight="normal" textLength="72" lengthAdjust="spacingAndGlyphs" stroke="#3a3a3a" stroke-width="0.18">Hemogen+BRG1</text>
<clipPath id="f1"><circle cx="408.5" cy="237.35" r="35.1"/></clipPath>
<circle cx="408.5" cy="237.35" r="35.1" fill="#c6b3cf"/>
<circle cx="440.8" cy="239.8" r="22.2" fill="#fdc27b"/>
<circle cx="440.8" cy="239.8" r="22.2" fill="#dea36b" clip-path="url(#f1)"/>
<text x="400.7" y="239.7" font-size="8.1" text-anchor="middle" fill="#231f20" font-weight="normal" textLength="20" lengthAdjust="spacingAndGlyphs" stroke="#231f20" stroke-width="0.18">17840</text>
<text x="432.5" y="239.7" font-size="8.1" text-anchor="middle" fill="#231f20" font-weight="normal" textLength="16.5" lengthAdjust="spacingAndGlyphs" stroke="#231f20" stroke-width="0.18">5155</text>
<text x="450" y="249.3" font-size="8.1" text-anchor="middle" fill="#231f20" font-weight="normal" textLength="16" lengthAdjust="spacingAndGlyphs" stroke="#231f20" stroke-width="0.18">2982</text>
<text x="382.6" y="289" font-size="9" text-anchor="start" fill="#3a3a3a" font-weight="normal" textLength="43.3" lengthAdjust="spacingAndGlyphs" stroke="#3a3a3a" stroke-width="0.18">Enhancers</text>
<text x="439" y="289" font-size="9" text-anchor="start" fill="#3a3a3a" font-weight="normal" textLength="72" lengthAdjust="spacingAndGlyphs" stroke="#3a3a3a" stroke-width="0.18">Hemogen+BRG1</text>
<clipPath id="f2"><circle cx="411.9" cy="316.6" r="23.1"/></clipPath>
<circle cx="411.9" cy="316.6" r="23.1" fill="#c6b3cf"/>
<circle cx="436.2" cy="316.6" r="22" fill="#fdc27b"/>
<circle cx="436.2" cy="316.6" r="22" fill="#dea36b" clip-path="url(#f2)"/>
<text x="401" y="316.6" font-size="8.1" text-anchor="middle" fill="#231f20" font-weight="normal" textLength="20.5" lengthAdjust="spacingAndGlyphs" stroke="#231f20" stroke-width="0.18">10755</text>
<text x="426.7" y="319.8" font-size="8.1" text-anchor="middle" fill="#231f20" font-weight="normal" textLength="16.6" lengthAdjust="spacingAndGlyphs" stroke="#231f20" stroke-width="0.18">4658</text>
<text x="446.2" y="323.6" font-size="8.1" text-anchor="middle" fill="#231f20" font-weight="normal" textLength="16.4" lengthAdjust="spacingAndGlyphs" stroke="#231f20" stroke-width="0.18">3386</text>
<text x="7.4" y="361" font-size="11" text-anchor="start" fill="#000" font-weight="bold" stroke="#000" stroke-width="0.18">G</text>
<line x1="73.6" y1="362.3" x2="73.6" y2="476.6" stroke="#231f20" stroke-width="1"/>
<line x1="73.1" y1="476.6" x2="160.5" y2="476.6" stroke="#231f20" stroke-width="1"/>
<line x1="78" y1="476.6" x2="78" y2="479.8" stroke="#231f20" stroke-width="0.9"/>
<text x="76.4" y="489.1" font-size="8.4" text-anchor="middle" fill="#231f20" font-weight="normal" textLength="17.8" lengthAdjust="spacingAndGlyphs" stroke="#231f20" stroke-width="0.18">–2kb</text>
<line x1="97.7" y1="476.6" x2="97.7" y2="479.8" stroke="#231f20" stroke-width="0.9"/>
<text x="97.3" y="489.1" font-size="8.4" text-anchor="middle" fill="#231f20" font-weight="normal" textLength="16.2" lengthAdjust="spacingAndGlyphs" stroke="#231f20" stroke-width="0.18">–1kb</text>
<line x1="117.1" y1="476.6" x2="117.1" y2="479.8" stroke="#231f20" stroke-width="0.9"/>
<text x="117.3" y="489.1" font-size="8.4" text-anchor="middle" fill="#231f20" font-weight="normal" textLength="12.6" lengthAdjust="spacingAndGlyphs" stroke="#231f20" stroke-width="0.18">TSS</text>
<line x1="137.2" y1="476.6" x2="137.2" y2="479.8" stroke="#231f20" stroke-width="0.9"/>
<text x="138" y="489.1" font-size="8.4" text-anchor="middle" fill="#231f20" font-weight="normal" textLength="12.5" lengthAdjust="spacingAndGlyphs" stroke="#231f20" stroke-width="0.18">1kb</text>
<line x1="156.9" y1="476.6" x2="156.9" y2="479.8" stroke="#231f20" stroke-width="0.9"/>
<text x="158.5" y="489.1" font-size="8.4" text-anchor="middle" fill="#231f20" font-weight="normal" textLength="13.1" lengthAdjust="spacingAndGlyphs" stroke="#231f20" stroke-width="0.18">2kb</text>
<line x1="70.4" y1="388.4" x2="73.6" y2="388.4" stroke="#231f20" stroke-width="0.9"/>
<text x="67" y="391.5" font-size="8.6" text-anchor="end" fill="#231f20" font-weight="normal" textLength="28.5" lengthAdjust="spacingAndGlyphs" stroke="#231f20" stroke-width="0.18">0.00075</text>
<line x1="70.4" y1="420.2" x2="73.6" y2="420.2" stroke="#231f20" stroke-width="0.9"/>
<text x="67" y="423.3" font-size="8.6" text-anchor="end" fill="#231f20" font-weight="normal" textLength="28.5" lengthAdjust="spacingAndGlyphs" stroke="#231f20" stroke-width="0.18">0.00050</text>
<line x1="70.4" y1="451.9" x2="73.6" y2="451.9" stroke="#231f20" stroke-width="0.9"/>
<text x="67" y="455.0" font-size="8.6" text-anchor="end" fill="#231f20" font-weight="normal" textLength="28.5" lengthAdjust="spacingAndGlyphs" stroke="#231f20" stroke-width="0.18">0.00025</text>
<text transform="translate(30.8,420) rotate(-90)" font-size="9.6" text-anchor="middle" fill="#231f20" stroke="#231f20" stroke-width="0.12" textLength="72.4" lengthAdjust="spacingAndGlyphs">Read count frequency</text>
<line x1="117.4" y1="362" x2="117.4" y2="476" stroke="#444" stroke-width="0.75" stroke-dasharray="2.2,2"/>
<path d="M78.00,470.30 C78.88,469.95 81.02,468.55 83.30,468.20 C85.58,467.85 89.30,468.73 91.70,468.20 C94.10,467.67 95.58,466.58 97.70,465.00 C99.82,463.42 102.57,460.82 104.40,458.70 C106.23,456.58 107.63,455.48 108.70,452.30 C109.77,449.12 110.10,445.23 110.80,439.60 C111.50,433.97 112.27,427.32 112.90,418.50 C113.53,409.68 114.15,394.28 114.60,386.70 C115.05,379.12 115.18,376.22 115.60,373.00 C116.02,369.78 116.60,367.40 117.10,367.40 C117.60,367.40 118.07,368.02 118.60,373.00 C119.13,377.98 119.67,388.67 120.30,397.30 C120.93,405.93 121.52,417.03 122.40,424.80 C123.28,432.57 124.02,438.62 125.60,443.90 C127.18,449.18 129.43,453.33 131.90,456.50 C134.37,459.67 137.57,461.13 140.40,462.90 C143.23,464.67 146.15,465.77 148.90,467.10 C151.65,468.43 155.57,470.27 156.90,470.90" fill="none" stroke="#3dba4a" stroke-width="1.5"/>
<path d="M82.20,468.20 C83.78,467.32 88.35,465.55 91.70,462.90 C95.05,460.25 99.12,456.88 102.30,452.30 C105.48,447.72 108.33,440.97 110.80,435.40 C113.27,429.83 114.98,419.25 117.10,418.90 C119.22,418.55 121.03,428.43 123.50,433.30 C125.97,438.17 128.38,443.52 131.90,448.10 C135.42,452.68 140.43,457.10 144.60,460.80 C148.77,464.50 154.85,468.72 156.90,470.30" fill="none" stroke="#215f9c" stroke-width="1.5"/>
<path d="M78.00,464.60 C79.93,463.78 85.55,462.10 89.60,459.70 C93.65,457.30 98.77,453.72 102.30,450.20 C105.83,446.68 108.33,442.20 110.80,438.60 C113.27,435.00 114.98,428.78 117.10,428.60 C119.22,428.42 120.68,433.55 123.50,437.50 C126.32,441.45 130.48,448.60 134.00,452.30 C137.52,456.00 140.78,457.58 144.60,459.70 C148.42,461.82 154.85,464.12 156.90,465.00" fill="none" stroke="#c9213f" stroke-width="1.6"/>
<line x1="126.6" y1="377.6" x2="131.3" y2="377.6" stroke="#215f9c" stroke-width="1.4"/>
<text x="133.9" y="380.5" font-size="7.4" text-anchor="start" fill="#231f20" font-weight="normal" textLength="18.3" lengthAdjust="spacingAndGlyphs" stroke="#231f20" stroke-width="0.18">BRG1</text>
<line x1="126.6" y1="386.75" x2="131.3" y2="386.75" stroke="#c9213f" stroke-width="1.4"/>
<text x="133.9" y="389.65" font-size="7.4" text-anchor="start" fill="#231f20" font-weight="normal" textLength="29.9" lengthAdjust="spacingAndGlyphs" stroke="#231f20" stroke-width="0.18">H3K27ac</text>
<line x1="126.6" y1="395.9" x2="131.3" y2="395.9" stroke="#3dba4a" stroke-width="1.4"/>
<text x="133.9" y="398.79999999999995" font-size="7.4" text-anchor="start" fill="#231f20" font-weight="normal" textLength="22.4" lengthAdjust="spacingAndGlyphs" stroke="#231f20" stroke-width="0.18">GATA1</text>
<text x="216.8" y="361.1" font-size="11" text-anchor="start" fill="#000" font-weight="bold" stroke="#000" stroke-width="0.18">H</text>
<rect x="233.1" y="363.4" width="252.9" height="38.4" fill="#13508a"/>
<text x="269.6" y="374.2" font-size="9" text-anchor="middle" fill="#fff" font-weight="bold" textLength="25.4" lengthAdjust="spacingAndGlyphs" stroke="#fff" stroke-width="0.1">Heme</text>
<text x="269.45" y="385.4" font-size="9" text-anchor="middle" fill="#fff" font-weight="bold" textLength="39.5" lengthAdjust="spacingAndGlyphs" stroke="#fff" stroke-width="0.1">synthetic</text>
<text x="269.8" y="396.7" font-size="9" text-anchor="middle" fill="#fff" font-weight="bold" textLength="38" lengthAdjust="spacingAndGlyphs" stroke="#fff" stroke-width="0.1">enzymes</text>
<text x="336.1" y="374.2" font-size="9" text-anchor="middle" fill="#fff" font-weight="bold" textLength="51.3" lengthAdjust="spacingAndGlyphs" stroke="#fff" stroke-width="0.1">Erythrocyte</text>
<text x="335.8" y="385.4" font-size="9" text-anchor="middle" fill="#fff" font-weight="bold" textLength="46.9" lengthAdjust="spacingAndGlyphs" stroke="#fff" stroke-width="0.1">membrane</text>
<text x="335.9" y="396.6" font-size="9" text-anchor="middle" fill="#fff" font-weight="bold" textLength="36.5" lengthAdjust="spacingAndGlyphs" stroke="#fff" stroke-width="0.1">proteins</text>
<text x="406.4" y="374.1" font-size="9" text-anchor="middle" fill="#fff" font-weight="bold" textLength="41.5" lengthAdjust="spacingAndGlyphs" stroke="#fff" stroke-width="0.1">Erythroid</text>
<text x="403.5" y="385.3" font-size="9" text-anchor="middle" fill="#fff" font-weight="bold" textLength="45.9" lengthAdjust="spacingAndGlyphs" stroke="#fff" stroke-width="0.1">regulators</text>
<text x="459.1" y="374.1" font-size="9" text-anchor="middle" fill="#fff" font-weight="bold" textLength="29.1" lengthAdjust="spacingAndGlyphs" stroke="#fff" stroke-width="0.1">Globin</text>
<text x="459" y="385.3" font-size="9" text-anchor="middle" fill="#fff" font-weight="bold" textLength="26.6" lengthAdjust="spacingAndGlyphs" stroke="#fff" stroke-width="0.1">genes</text>
<rect x="233.1" y="401.8" width="252.9" height="12.5" fill="#b9cadb"/>
<text x="269.65" y="412.3" font-size="8" text-anchor="middle" fill="#222" font-weight="normal" textLength="22.3" lengthAdjust="spacingAndGlyphs" stroke="#222" stroke-width="0.05">CPOX</text>
<text x="334.6" y="412.3" font-size="8" text-anchor="middle" fill="#222" font-weight="normal" textLength="27.7" lengthAdjust="spacingAndGlyphs" stroke="#222" stroke-width="0.05">SLC4A1</text>
<text x="405" y="412.3" font-size="8" text-anchor="middle" fill="#222" font-weight="normal" textLength="18" lengthAdjust="spacingAndGlyphs" stroke="#222" stroke-width="0.05">TAL1</text>
<text x="458" y="412.3" font-size="8" text-anchor="middle" fill="#222" font-weight="normal" textLength="25.9" lengthAdjust="spacingAndGlyphs" stroke="#222" stroke-width="0.05">Hbb-bt</text>
<rect x="233.1" y="414.3" width="252.9" height="12.5" fill="#dae3ed"/>
<text x="268.85" y="424.6" font-size="8" text-anchor="middle" fill="#222" font-weight="normal" textLength="22.3" lengthAdjust="spacingAndGlyphs" stroke="#222" stroke-width="0.05">HMBS</text>
<text x="334.8" y="424.6" font-size="8" text-anchor="middle" fill="#222" font-weight="normal" textLength="46.7" lengthAdjust="spacingAndGlyphs" stroke="#222" stroke-width="0.05">GYPA, GYPC</text>
<text x="405" y="424.6" font-size="8" text-anchor="middle" fill="#222" font-weight="normal" textLength="16.8" lengthAdjust="spacingAndGlyphs" stroke="#222" stroke-width="0.05">KLF1</text>
<text x="458" y="424.6" font-size="8" text-anchor="middle" fill="#222" font-weight="normal" textLength="27.1" lengthAdjust="spacingAndGlyphs" stroke="#222" stroke-width="0.05">Hbb-bs</text>
<line x1="233.1" y1="414.3" x2="486" y2="414.3" stroke="#fff" stroke-width="0.4" opacity="0.6"/>
<rect x="233.1" y="426.8" width="252.9" height="12.5" fill="#b9cadb"/>
<text x="268.5" y="436.9" font-size="8" text-anchor="middle" fill="#222" font-weight="normal" textLength="20" lengthAdjust="spacingAndGlyphs" stroke="#222" stroke-width="0.05">FECH</text>
<text x="335" y="436.9" font-size="8" text-anchor="middle" fill="#222" font-weight="normal" textLength="20.8" lengthAdjust="spacingAndGlyphs" stroke="#222" stroke-width="0.05">EPOR</text>
<text x="404.9" y="436.9" font-size="8" text-anchor="middle" fill="#222" font-weight="normal" textLength="18.7" lengthAdjust="spacingAndGlyphs" stroke="#222" stroke-width="0.05">LDB1</text>
<line x1="233.1" y1="426.8" x2="486" y2="426.8" stroke="#fff" stroke-width="0.4" opacity="0.6"/>
<rect x="233.1" y="439.3" width="252.9" height="12.5" fill="#dae3ed"/>
<text x="268.55" y="449.5" font-size="8" text-anchor="middle" fill="#222" font-weight="normal" textLength="20.7" lengthAdjust="spacingAndGlyphs" stroke="#222" stroke-width="0.05">PPOX</text>
<text x="335" y="449.5" font-size="8" text-anchor="middle" fill="#222" font-weight="normal" textLength="19.2" lengthAdjust="spacingAndGlyphs" stroke="#222" stroke-width="0.05">TFRC</text>
<line x1="233.1" y1="439.3" x2="486" y2="439.3" stroke="#fff" stroke-width="0.4" opacity="0.6"/>
<rect x="233.1" y="451.8" width="252.9" height="12.5" fill="#b9cadb"/>
<text x="268.65" y="461.8" font-size="8" text-anchor="middle" fill="#222" font-weight="normal" textLength="48.9" lengthAdjust="spacingAndGlyphs" stroke="#222" stroke-width="0.05">UROS, UROD</text>
<text x="334.8" y="461.8" font-size="8" text-anchor="middle" fill="#222" font-weight="normal" textLength="32" lengthAdjust="spacingAndGlyphs" stroke="#222" stroke-width="0.05">EPB41, 2</text>
<line x1="233.1" y1="451.8" x2="486" y2="451.8" stroke="#fff" stroke-width="0.4" opacity="0.6"/>
<rect x="233.1" y="464.3" width="252.9" height="12.5" fill="#dae3ed"/>
<text x="268.85" y="474.6" font-size="8" text-anchor="middle" fill="#222" font-weight="normal" textLength="39.3" lengthAdjust="spacingAndGlyphs" stroke="#222" stroke-width="0.05">ABCB6, 10</text>
<text x="335" y="474.6" font-size="8" text-anchor="middle" fill="#222" font-weight="normal" textLength="34.6" lengthAdjust="spacingAndGlyphs" stroke="#222" stroke-width="0.05">TSPAN33</text>
<line x1="233.1" y1="464.3" x2="486" y2="464.3" stroke="#fff" stroke-width="0.4" opacity="0.6"/>
<line x1="301.1" y1="363.4" x2="301.1" y2="476.8" stroke="#fff" stroke-width="0.8" opacity="0.85"/>
<line x1="373" y1="363.4" x2="373" y2="476.8" stroke="#fff" stroke-width="0.8" opacity="0.85"/>
<line x1="436.4" y1="363.4" x2="436.4" y2="476.8" stroke="#fff" stroke-width="0.8" opacity="0.85"/>
<text x="7.6" y="508.7" font-size="11" text-anchor="start" fill="#000" font-weight="bold" stroke="#000" stroke-width="0.18">I</text>
<line x1="110.5" y1="507" x2="110.5" y2="702.3" stroke="#fbd9dc" stroke-width="1"/>
<text x="86.2" y="521.6" font-size="9" text-anchor="start" fill="#231f20" font-weight="normal" textLength="21" lengthAdjust="spacingAndGlyphs" stroke="#231f20" stroke-width="0.18">chr9:</text>
<text x="187.7" y="512" font-size="9" text-anchor="start" fill="#231f20" font-weight="normal" textLength="27.6" lengthAdjust="spacingAndGlyphs" stroke="#231f20" stroke-width="0.18">100 kb</text>
<line x1="215.5" y1="508.9" x2="366" y2="508.9" stroke="#231f20" stroke-width="0.9"/>
<line x1="215.7" y1="506.8" x2="215.7" y2="511" stroke="#231f20" stroke-width="0.8"/>
<line x1="365.7" y1="506.8" x2="365.7" y2="511" stroke="#231f20" stroke-width="0.8"/>
<text x="370.8" y="512" font-size="9" text-anchor="start" fill="#231f20" font-weight="normal" textLength="26.2" lengthAdjust="spacingAndGlyphs" stroke="#231f20" stroke-width="0.18">mm10</text>
<text x="135.8" y="521.3" font-size="9.2" text-anchor="start" fill="#231f20" font-weight="normal" textLength="46.2" lengthAdjust="spacingAndGlyphs" stroke="#231f20" stroke-width="0.18">21,950,000</text>
<line x1="183.8" y1="515.2" x2="183.8" y2="521.2" stroke="#777" stroke-width="0.6"/>
<text x="211.5" y="521.3" font-size="9.2" text-anchor="start" fill="#231f20" font-weight="normal" textLength="46.2" lengthAdjust="spacingAndGlyphs" stroke="#231f20" stroke-width="0.18">22,000,000</text>
<line x1="259.5" y1="515.2" x2="259.5" y2="521.2" stroke="#777" stroke-width="0.6"/>
<text x="287" y="521.3" font-size="9.2" text-anchor="start" fill="#231f20" font-weight="normal" textLength="46.2" lengthAdjust="spacingAndGlyphs" stroke="#231f20" stroke-width="0.18">22,050,000</text>
<line x1="335.0" y1="515.2" x2="335.0" y2="521.2" stroke="#777" stroke-width="0.6"/>
<text x="361.3" y="521.3" font-size="9.2" text-anchor="start" fill="#231f20" font-weight="normal" textLength="46.2" lengthAdjust="spacingAndGlyphs" stroke="#231f20" stroke-width="0.18">22,100,000</text>
<line x1="409.3" y1="515.2" x2="409.3" y2="521.2" stroke="#777" stroke-width="0.6"/>
<text x="141.8" y="535.4" font-size="7.6" text-anchor="start" fill="#28318a" font-weight="normal" textLength="21.3" lengthAdjust="spacingAndGlyphs" stroke="#28318a" stroke-width="0.18">Plppr2</text>
<text x="106.2" y="547.4" font-size="7.6" text-anchor="start" fill="#28318a" font-weight="normal" textLength="33" lengthAdjust="spacingAndGlyphs" stroke="#28318a" stroke-width="0.18">Tmem205</text>
<text x="120" y="559.2" font-size="7.6" text-anchor="start" fill="#28318a" font-weight="normal" textLength="28.9" lengthAdjust="spacingAndGlyphs" stroke="#28318a" stroke-width="0.18">Ccdc159</text>
<text x="180.3" y="541.9" font-size="7.6" text-anchor="start" fill="#231f20" font-weight="normal" textLength="16" lengthAdjust="spacingAndGlyphs" stroke="#231f20" stroke-width="0.18">Epor</text>
<text x="166.9" y="548.7" font-size="7.6" text-anchor="start" fill="#28318a" font-weight="normal" textLength="24.4" lengthAdjust="spacingAndGlyphs" stroke="#28318a" stroke-width="0.18">Swsap1</text>
<text x="199" y="535.3" font-size="7.6" text-anchor="start" fill="#28318a" font-weight="normal" textLength="15" lengthAdjust="spacingAndGlyphs" stroke="#28318a" stroke-width="0.18">Rgl3</text>
<text x="215.8" y="540.3" font-size="7.6" text-anchor="start" fill="#28318a" font-weight="normal" textLength="28.4" lengthAdjust="spacingAndGlyphs" stroke="#28318a" stroke-width="0.18">Ccdc151</text>
<text x="240.8" y="546.2" font-size="7.6" text-anchor="start" fill="#231f20" font-weight="normal" textLength="20.7" lengthAdjust="spacingAndGlyphs" stroke="#231f20" stroke-width="0.18">Prkcsh</text>
<text x="260" y="534.2" font-size="7.6" text-anchor="start" fill="#231f20" font-weight="normal" textLength="19.5" lengthAdjust="spacingAndGlyphs" stroke="#231f20" stroke-width="0.18">Elavl3</text>
<text x="332" y="538.5" font-size="7.6" text-anchor="start" fill="#28318a" font-weight="normal" textLength="32.2" lengthAdjust="spacingAndGlyphs" stroke="#28318a" stroke-width="0.18">Gm16845</text>
<text x="316.9" y="550.7" font-size="7.6" text-anchor="start" fill="#28318a" font-weight="normal" textLength="23.6" lengthAdjust="spacingAndGlyphs" stroke="#28318a" stroke-width="0.18">Zfp653</text>
<text x="351" y="556.5" font-size="7.6" text-anchor="start" fill="#28318a" font-weight="normal" textLength="16.2" lengthAdjust="spacingAndGlyphs" stroke="#28318a" stroke-width="0.18">Ecsit</text>
<text x="431.4" y="528.5" font-size="7.6" text-anchor="start" fill="#28318a" font-weight="normal" textLength="17.2" lengthAdjust="spacingAndGlyphs" stroke="#28318a" stroke-width="0.18">Acp5</text>
<text x="424.6" y="537.7" font-size="7.6" text-anchor="start" fill="#28318a" font-weight="normal" textLength="16.9" lengthAdjust="spacingAndGlyphs" stroke="#28318a" stroke-width="0.18">Cnn1</text>
<text x="409.8" y="544.7" font-size="7.6" text-anchor="start" fill="#231f20" font-weight="normal" textLength="15.7" lengthAdjust="spacingAndGlyphs" stroke="#231f20" stroke-width="0.18">Elof1</text>
<text x="404" y="560.7" font-size="7.6" text-anchor="start" fill="#28318a" font-weight="normal" textLength="27.4" lengthAdjust="spacingAndGlyphs" stroke="#28318a" stroke-width="0.18">Mir7084</text>
<line x1="163.5" y1="532.8" x2="182" y2="532.8" stroke="#28318a" stroke-width="0.6"/>
<path d="M165.29,531.8 L166.09,532.8 L165.29,533.8" stroke="#28318a" stroke-width="0.45" fill="none"/>
<path d="M168.99,531.8 L169.79,532.8 L168.99,533.8" stroke="#28318a" stroke-width="0.45" fill="none"/>
<path d="M172.69,531.8 L173.49,532.8 L172.69,533.8" stroke="#28318a" stroke-width="0.45" fill="none"/>
<path d="M176.39,531.8 L177.19,532.8 L176.39,533.8" stroke="#28318a" stroke-width="0.45" fill="none"/>
<path d="M180.09,531.8 L180.89,532.8 L180.09,533.8" stroke="#28318a" stroke-width="0.45" fill="none"/>
<rect x="172" y="531.5" width="1" height="2.6" fill="#28318a"/>
<rect x="176" y="531.5" width="1" height="2.6" fill="#28318a"/>
<polygon points="181,531.3 183.6,532.8 181,534.3" fill="#28318a"/>
<line x1="139.5" y1="544.6" x2="149.5" y2="544.6" stroke="#28318a" stroke-width="0.6"/>
<path d="M141.03,543.6 L141.83,544.6 L141.03,545.6" stroke="#28318a" stroke-width="0.45" fill="none"/>
<path d="M144.37,543.6 L145.17,544.6 L144.37,545.6" stroke="#28318a" stroke-width="0.45" fill="none"/>
<path d="M147.70,543.6 L148.50,544.6 L147.70,545.6" stroke="#28318a" stroke-width="0.45" fill="none"/>
<rect x="139.5" y="543.3000000000001" width="1.2" height="2.6" fill="#28318a"/>
<polygon points="148.5,543.1 151,544.6 148.5,546.1" fill="#28318a"/>
<line x1="149.6" y1="556.6" x2="163" y2="556.6" stroke="#28318a" stroke-width="0.6"/>
<path d="M151.14,555.6 L151.94,556.6 L151.14,557.6" stroke="#28318a" stroke-width="0.45" fill="none"/>
<path d="M154.49,555.6 L155.29,556.6 L154.49,557.6" stroke="#28318a" stroke-width="0.45" fill="none"/>
<path d="M157.84,555.6 L158.65,556.6 L157.84,557.6" stroke="#28318a" stroke-width="0.45" fill="none"/>
<path d="M161.19,555.6 L162.00,556.6 L161.19,557.6" stroke="#28318a" stroke-width="0.45" fill="none"/>
<rect x="150.5" y="555.3000000000001" width="1" height="2.6" fill="#28318a"/>
<rect x="153" y="555.3000000000001" width="1" height="2.6" fill="#28318a"/>
<rect x="156" y="555.3000000000001" width="1.5" height="2.6" fill="#28318a"/>
<rect x="159.5" y="555.3000000000001" width="3" height="2.6" fill="#28318a"/>
<line x1="197.3" y1="540.6" x2="204.8" y2="540.6" stroke="#231f20" stroke-width="0.6"/>
<rect x="197.3" y="539.3000000000001" width="7.5" height="2.6" fill="#231f20"/>
<polygon points="193.8,543.5 196.5,545 193.8,546.5" fill="#28318a"/>
<line x1="216.2" y1="532.0" x2="243.5" y2="532.0" stroke="#28318a" stroke-width="0.6"/>
<path d="M217.79,531.0 L218.59,532.0 L217.79,533.0" stroke="#28318a" stroke-width="0.45" fill="none"/>
<path d="M221.20,531.0 L222.00,532.0 L221.20,533.0" stroke="#28318a" stroke-width="0.45" fill="none"/>
<path d="M224.61,531.0 L225.41,532.0 L224.61,533.0" stroke="#28318a" stroke-width="0.45" fill="none"/>
<path d="M228.03,531.0 L228.83,532.0 L228.03,533.0" stroke="#28318a" stroke-width="0.45" fill="none"/>
<path d="M231.44,531.0 L232.24,532.0 L231.44,533.0" stroke="#28318a" stroke-width="0.45" fill="none"/>
<path d="M234.85,531.0 L235.65,532.0 L234.85,533.0" stroke="#28318a" stroke-width="0.45" fill="none"/>
<path d="M238.26,531.0 L239.06,532.0 L238.26,533.0" stroke="#28318a" stroke-width="0.45" fill="none"/>
<path d="M241.68,531.0 L242.48,532.0 L241.68,533.0" stroke="#28318a" stroke-width="0.45" fill="none"/>
<rect x="216.5" y="530.7" width="1" height="2.6" fill="#28318a"/>
<rect x="218.5" y="530.7" width="1" height="2.6" fill="#28318a"/>
<rect x="222" y="530.7" width="1" height="2.6" fill="#28318a"/>
<rect x="224" y="530.7" width="2.5" height="2.6" fill="#28318a"/>
<rect x="230.5" y="530.7" width="1.2" height="2.6" fill="#28318a"/>
<rect x="240" y="530.7" width="3.5" height="2.6" fill="#28318a"/>
<line x1="244.2" y1="537.0" x2="263" y2="537.0" stroke="#28318a" stroke-width="0.6"/>
<path d="M246.03,536.0 L246.83,537.0 L246.03,538.0" stroke="#28318a" stroke-width="0.45" fill="none"/>
<path d="M249.79,536.0 L250.59,537.0 L249.79,538.0" stroke="#28318a" stroke-width="0.45" fill="none"/>
<path d="M253.55,536.0 L254.35,537.0 L253.55,538.0" stroke="#28318a" stroke-width="0.45" fill="none"/>
<path d="M257.31,536.0 L258.11,537.0 L257.31,538.0" stroke="#28318a" stroke-width="0.45" fill="none"/>
<path d="M261.07,536.0 L261.87,537.0 L261.07,538.0" stroke="#28318a" stroke-width="0.45" fill="none"/>
<rect x="244.5" y="535.7" width="1" height="2.6" fill="#28318a"/>
<rect x="246.5" y="535.7" width="1" height="2.6" fill="#28318a"/>
<rect x="248.5" y="535.7" width="1" height="2.6" fill="#28318a"/>
<rect x="250.5" y="535.7" width="1" height="2.6" fill="#28318a"/>
<line x1="262.8" y1="535.5" x2="262.8" y2="538.5" stroke="#28318a" stroke-width="0.6"/>
<line x1="263" y1="544.6" x2="280" y2="544.6" stroke="#231f20" stroke-width="0.6"/>
<path d="M264.58,543.6 L265.38,544.6 L264.58,545.6" stroke="#231f20" stroke-width="0.45" fill="none"/>
<path d="M267.98,543.6 L268.78,544.6 L267.98,545.6" stroke="#231f20" stroke-width="0.45" fill="none"/>
<path d="M271.38,543.6 L272.18,544.6 L271.38,545.6" stroke="#231f20" stroke-width="0.45" fill="none"/>
<path d="M274.78,543.6 L275.58,544.6 L274.78,545.6" stroke="#231f20" stroke-width="0.45" fill="none"/>
<path d="M278.18,543.6 L278.98,544.6 L278.18,545.6" stroke="#231f20" stroke-width="0.45" fill="none"/>
<rect x="264" y="543.3000000000001" width="1" height="2.6" fill="#231f20"/>
<rect x="275" y="543.3000000000001" width="5" height="2.6" fill="#231f20"/>
<line x1="281.2" y1="532.0" x2="337.3" y2="532.0" stroke="#231f20" stroke-width="0.6"/>
<path d="M282.71,531.0 L283.51,532.0 L282.71,533.0" stroke="#231f20" stroke-width="0.45" fill="none"/>
<path d="M286.01,531.0 L286.81,532.0 L286.01,533.0" stroke="#231f20" stroke-width="0.45" fill="none"/>
<path d="M289.31,531.0 L290.11,532.0 L289.31,533.0" stroke="#231f20" stroke-width="0.45" fill="none"/>
<path d="M292.61,531.0 L293.41,532.0 L292.61,533.0" stroke="#231f20" stroke-width="0.45" fill="none"/>
<path d="M295.91,531.0 L296.71,532.0 L295.91,533.0" stroke="#231f20" stroke-width="0.45" fill="none"/>
<path d="M299.21,531.0 L300.01,532.0 L299.21,533.0" stroke="#231f20" stroke-width="0.45" fill="none"/>
<path d="M302.51,531.0 L303.31,532.0 L302.51,533.0" stroke="#231f20" stroke-width="0.45" fill="none"/>
<path d="M305.81,531.0 L306.61,532.0 L305.81,533.0" stroke="#231f20" stroke-width="0.45" fill="none"/>
<path d="M309.11,531.0 L309.91,532.0 L309.11,533.0" stroke="#231f20" stroke-width="0.45" fill="none"/>
<path d="M312.41,531.0 L313.21,532.0 L312.41,533.0" stroke="#231f20" stroke-width="0.45" fill="none"/>
<path d="M315.71,531.0 L316.51,532.0 L315.71,533.0" stroke="#231f20" stroke-width="0.45" fill="none"/>
<path d="M319.01,531.0 L319.81,532.0 L319.01,533.0" stroke="#231f20" stroke-width="0.45" fill="none"/>
<path d="M322.31,531.0 L323.11,532.0 L322.31,533.0" stroke="#231f20" stroke-width="0.45" fill="none"/>
<path d="M325.61,531.0 L326.41,532.0 L325.61,533.0" stroke="#231f20" stroke-width="0.45" fill="none"/>
<path d="M328.91,531.0 L329.71,532.0 L328.91,533.0" stroke="#231f20" stroke-width="0.45" fill="none"/>
<path d="M332.21,531.0 L333.01,532.0 L332.21,533.0" stroke="#231f20" stroke-width="0.45" fill="none"/>
<path d="M335.51,531.0 L336.31,532.0 L335.51,533.0" stroke="#231f20" stroke-width="0.45" fill="none"/>
<rect x="281.2" y="530.7" width="5.5" height="2.6" fill="#231f20"/>
<line x1="298" y1="530.5" x2="298" y2="533.5" stroke="#231f20" stroke-width="0.6"/>
<line x1="314.5" y1="530.5" x2="314.5" y2="533.5" stroke="#231f20" stroke-width="0.6"/>
<line x1="337.3" y1="530.5" x2="337.3" y2="533.5" stroke="#231f20" stroke-width="0.6"/>
<line x1="366" y1="536.6" x2="388.5" y2="536.6" stroke="#28318a" stroke-width="0.6"/>
<path d="M367.45,535.6 L368.25,536.6 L367.45,537.6" stroke="#28318a" stroke-width="0.45" fill="none"/>
<path d="M370.66,535.6 L371.46,536.6 L370.66,537.6" stroke="#28318a" stroke-width="0.45" fill="none"/>
<path d="M373.88,535.6 L374.68,536.6 L373.88,537.6" stroke="#28318a" stroke-width="0.45" fill="none"/>
<path d="M377.09,535.6 L377.89,536.6 L377.09,537.6" stroke="#28318a" stroke-width="0.45" fill="none"/>
<path d="M380.31,535.6 L381.11,536.6 L380.31,537.6" stroke="#28318a" stroke-width="0.45" fill="none"/>
<path d="M383.52,535.6 L384.32,536.6 L383.52,537.6" stroke="#28318a" stroke-width="0.45" fill="none"/>
<path d="M386.74,535.6 L387.54,536.6 L386.74,537.6" stroke="#28318a" stroke-width="0.45" fill="none"/>
<rect x="387.2" y="535.3000000000001" width="1.6" height="2.6" fill="#28318a"/>
<line x1="342.3" y1="548.8" x2="367.2" y2="548.8" stroke="#28318a" stroke-width="0.6"/>
<path d="M343.99,547.8 L344.79,548.8 L343.99,549.8" stroke="#28318a" stroke-width="0.45" fill="none"/>
<path d="M347.55,547.8 L348.35,548.8 L347.55,549.8" stroke="#28318a" stroke-width="0.45" fill="none"/>
<path d="M351.10,547.8 L351.90,548.8 L351.10,549.8" stroke="#28318a" stroke-width="0.45" fill="none"/>
<path d="M354.66,547.8 L355.46,548.8 L354.66,549.8" stroke="#28318a" stroke-width="0.45" fill="none"/>
<path d="M358.22,547.8 L359.02,548.8 L358.22,549.8" stroke="#28318a" stroke-width="0.45" fill="none"/>
<path d="M361.78,547.8 L362.58,548.8 L361.78,549.8" stroke="#28318a" stroke-width="0.45" fill="none"/>
<path d="M365.33,547.8 L366.13,548.8 L365.33,549.8" stroke="#28318a" stroke-width="0.45" fill="none"/>
<rect x="342.3" y="547.5" width="1.7" height="2.6" fill="#28318a"/>
<rect x="345" y="547.5" width="2" height="2.6" fill="#28318a"/>
<line x1="356.5" y1="547.3" x2="356.5" y2="550.3" stroke="#28318a" stroke-width="0.6"/>
<line x1="361" y1="547.3" x2="361" y2="550.3" stroke="#28318a" stroke-width="0.6"/>
<line x1="367" y1="547.3" x2="367" y2="550.3" stroke="#28318a" stroke-width="0.6"/>
<line x1="367.7" y1="553.0" x2="388" y2="553.0" stroke="#28318a" stroke-width="0.6"/>
<path d="M369.27,552.0 L370.07,553.0 L369.27,554.0" stroke="#28318a" stroke-width="0.45" fill="none"/>
<path d="M372.65,552.0 L373.45,553.0 L372.65,554.0" stroke="#28318a" stroke-width="0.45" fill="none"/>
<path d="M376.03,552.0 L376.83,553.0 L376.03,554.0" stroke="#28318a" stroke-width="0.45" fill="none"/>
<path d="M379.42,552.0 L380.22,553.0 L379.42,554.0" stroke="#28318a" stroke-width="0.45" fill="none"/>
<path d="M382.80,552.0 L383.60,553.0 L382.80,554.0" stroke="#28318a" stroke-width="0.45" fill="none"/>
<path d="M386.19,552.0 L386.99,553.0 L386.19,554.0" stroke="#28318a" stroke-width="0.45" fill="none"/>
<rect x="368" y="551.7" width="1.2" height="2.6" fill="#28318a"/>
<rect x="370" y="551.7" width="1.2" height="2.6" fill="#28318a"/>
<rect x="372" y="551.7" width="1.2" height="2.6" fill="#28318a"/>
<line x1="449" y1="526" x2="463" y2="526" stroke="#28318a" stroke-width="0.6"/>
<path d="M450.65,525 L451.45,526 L450.65,527" stroke="#28318a" stroke-width="0.45" fill="none"/>
<path d="M454.15,525 L454.95,526 L454.15,527" stroke="#28318a" stroke-width="0.45" fill="none"/>
<path d="M457.65,525 L458.45,526 L457.65,527" stroke="#28318a" stroke-width="0.45" fill="none"/>
<path d="M461.15,525 L461.95,526 L461.15,527" stroke="#28318a" stroke-width="0.45" fill="none"/>
<rect x="450" y="524.7" width="1" height="2.6" fill="#28318a"/>
<rect x="452.5" y="524.7" width="1" height="2.6" fill="#28318a"/>
<line x1="407.7" y1="535.2" x2="424" y2="535.2" stroke="#28318a" stroke-width="0.6"/>
<path d="M409.18,534.2 L409.98,535.2 L409.18,536.2" stroke="#28318a" stroke-width="0.45" fill="none"/>
<path d="M412.44,534.2 L413.24,535.2 L412.44,536.2" stroke="#28318a" stroke-width="0.45" fill="none"/>
<path d="M415.70,534.2 L416.50,535.2 L415.70,536.2" stroke="#28318a" stroke-width="0.45" fill="none"/>
<path d="M418.96,534.2 L419.76,535.2 L418.96,536.2" stroke="#28318a" stroke-width="0.45" fill="none"/>
<path d="M422.22,534.2 L423.02,535.2 L422.22,536.2" stroke="#28318a" stroke-width="0.45" fill="none"/>
<rect x="407.7" y="533.9000000000001" width="0.6" height="2.6" fill="#28318a"/>
<rect x="413" y="533.9000000000001" width="1" height="2.6" fill="#28318a"/>
<rect x="416" y="533.9000000000001" width="1" height="2.6" fill="#28318a"/>
<rect x="420" y="533.9000000000001" width="1.3" height="2.6" fill="#28318a"/>
<ellipse cx="428" cy="543.4" rx="0.9" ry="1.6" fill="#231f20"/>
<line x1="433.5" y1="556" x2="433.5" y2="558" stroke="#28318a" stroke-width="0.5"/>
<text x="86" y="578.75" font-size="8" text-anchor="end" fill="#231f20" font-weight="normal" textLength="17.3" lengthAdjust="spacingAndGlyphs" stroke="#231f20" stroke-width="0.18">Input</text>
<text x="97.2" y="571.45" font-size="8.8" text-anchor="end" fill="#231f20" font-weight="normal" textLength="7.9" lengthAdjust="spacingAndGlyphs" stroke="#231f20" stroke-width="0.18">90</text>
<text x="97.2" y="583.60" font-size="8.8" text-anchor="end" fill="#231f20" font-weight="normal" textLength="3.95" lengthAdjust="spacingAndGlyphs" stroke="#231f20" stroke-width="0.18">0</text>
<line x1="102.3" y1="568.25" x2="109.8" y2="568.25" stroke="#2a2a2a" stroke-width="1.2"/>
<line x1="102.3" y1="581.00" x2="109.8" y2="581.00" stroke="#2a2a2a" stroke-width="1.2"/>
<path d="M110.8,581.91 L111.3,581.92 L111.8,581.79 L112.3,581.77 L112.8,581.87 L113.3,581.31 L113.8,580.82 L114.3,581.31 L114.8,581.86 L115.3,581.80 L115.8,581.73 L116.3,581.53 L116.8,581.71 L117.3,581.65 L117.8,581.88 L118.3,581.83 L118.8,581.75 L119.3,581.62 L119.8,581.59 L120.3,581.65 L120.8,581.81 L121.3,581.80 L121.8,581.67 L122.3,581.55 L122.8,581.42 L123.3,581.29 L123.8,581.42 L124.3,581.55 L124.8,581.61 L125.3,581.53 L125.8,581.46 L126.3,581.62 L126.8,581.59 L127.3,581.75 L127.8,581.57 L128.3,581.55 L128.8,581.66 L129.3,581.93 L129.8,582.00 L130.3,581.86 L130.8,581.76 L131.3,581.62 L131.8,581.85 L132.3,581.82 L132.8,581.90 L133.3,581.89 L133.8,581.86 L134.3,581.79 L134.8,581.61 L135.3,581.58 L135.8,581.46 L136.3,581.48 L136.8,581.37 L137.3,581.46 L137.8,581.69 L138.3,581.73 L138.8,581.64 L139.3,581.39 L139.8,581.49 L140.3,581.57 L140.8,581.80 L141.3,581.71 L141.8,581.76 L142.3,581.74 L142.8,581.99 L143.3,581.90 L143.8,581.66 L144.3,581.66 L144.8,581.67 L145.3,581.87 L145.8,581.85 L146.3,582.00 L146.8,581.90 L147.3,581.65 L147.8,581.74 L148.3,581.79 L148.8,582.00 L149.3,581.84 L149.8,581.94 L150.3,581.66 L150.8,581.57 L151.3,581.51 L151.8,581.47 L152.3,581.70 L152.8,581.84 L153.3,581.97 L153.8,582.00 L154.3,582.00 L154.8,582.00 L155.3,581.89 L155.8,581.91 L156.3,582.00 L156.8,581.94 L157.3,581.89 L157.8,581.59 L158.3,581.58 L158.8,581.56 L159.3,581.70 L159.8,581.60 L160.3,581.51 L160.8,581.41 L161.3,581.32 L161.8,580.83 L162.3,581.32 L162.8,581.61 L163.3,581.67 L163.8,581.75 L164.3,581.84 L164.8,581.88 L165.3,581.60 L165.8,581.40 L166.3,581.20 L166.8,581.40 L167.3,581.60 L167.8,581.96 L168.3,581.96 L168.8,581.89 L169.3,581.88 L169.8,581.86 L170.3,581.86 L170.8,581.92 L171.3,581.71 L171.8,581.80 L172.3,581.72 L172.8,581.70 L173.3,581.81 L173.8,582.00 L174.3,582.00 L174.8,581.73 L175.3,581.67 L175.8,581.74 L176.3,581.87 L176.8,581.69 L177.3,581.58 L177.8,581.47 L178.3,581.58 L178.8,581.69 L179.3,581.88 L179.8,581.88 L180.3,581.82 L180.8,581.91 L181.3,581.84 L181.8,581.86 L182.3,581.76 L182.8,581.88 L183.3,581.85 L183.8,581.88 L184.3,581.89 L184.8,582.00 L185.3,581.86 L185.8,581.89 L186.3,581.93 L186.8,582.00 L187.3,581.80 L187.8,581.76 L188.3,581.59 L188.8,581.81 L189.3,581.85 L189.8,581.91 L190.3,581.68 L190.8,581.64 L191.3,581.78 L191.8,582.00 L192.3,582.00 L192.8,582.00 L193.3,581.79 L193.8,581.69 L194.3,581.69 L194.8,581.87 L195.3,581.88 L195.8,581.72 L196.3,581.55 L196.8,581.70 L197.3,581.87 L197.8,582.00 L198.3,581.89 L198.8,581.85 L199.3,581.83 L199.8,581.96 L200.3,581.91 L200.8,581.88 L201.3,581.72 L201.8,581.80 L202.3,581.94 L202.8,581.72 L203.3,580.85 L203.8,580.92 L204.3,581.53 L204.8,581.51 L205.3,581.53 L205.8,581.60 L206.3,581.67 L206.8,581.70 L207.3,581.55 L207.8,581.63 L208.3,581.81 L208.8,581.92 L209.3,582.00 L209.8,582.00 L210.3,581.68 L210.8,581.55 L211.3,581.43 L211.8,581.30 L212.3,581.43 L212.8,581.55 L213.3,581.46 L213.8,581.46 L214.3,581.39 L214.8,581.51 L215.3,581.80 L215.8,581.85 L216.3,581.99 L216.8,581.89 L217.3,581.92 L217.8,581.80 L218.3,581.77 L218.8,581.67 L219.3,581.65 L219.8,581.67 L220.3,581.90 L220.8,581.81 L221.3,581.77 L221.8,581.59 L222.3,581.76 L222.8,581.86 L223.3,581.94 L223.8,581.78 L224.3,581.79 L224.8,581.71 L225.3,581.67 L225.8,581.46 L226.3,581.45 L226.8,581.75 L227.3,581.81 L227.8,581.80 L228.3,581.79 L228.8,581.91 L229.3,582.00 L229.8,581.94 L230.3,581.89 L230.8,581.83 L231.3,581.74 L231.8,581.88 L232.3,582.00 L232.8,582.00 L233.3,581.66 L233.8,581.53 L234.3,581.39 L234.8,581.26 L235.3,581.39 L235.8,581.53 L236.3,581.66 L236.8,581.92 L237.3,581.97 L237.8,581.86 L238.3,581.77 L238.8,581.77 L239.3,581.92 L239.8,582.00 L240.3,582.00 L240.8,581.96 L241.3,581.83 L241.8,581.75 L242.3,581.91 L242.8,582.00 L243.3,582.00 L243.8,581.91 L244.3,581.71 L244.8,581.71 L245.3,581.65 L245.8,581.70 L246.3,581.68 L246.8,581.82 L247.3,581.87 L247.8,581.78 L248.3,581.76 L248.8,581.69 L249.3,581.77 L249.8,581.83 L250.3,581.89 L250.8,581.81 L251.3,581.87 L251.8,581.90 L252.3,581.99 L252.8,581.72 L253.3,581.55 L253.8,581.57 L254.3,581.56 L254.8,581.61 L255.3,581.65 L255.8,581.79 L256.3,582.00 L256.8,581.83 L257.3,581.77 L257.8,581.51 L258.3,581.52 L258.8,581.52 L259.3,581.57 L259.8,581.64 L260.3,581.83 L260.8,581.88 L261.3,582.00 L261.8,582.00 L262.3,581.99 L262.8,581.98 L263.3,582.00 L263.8,582.00 L264.3,581.94 L264.8,581.91 L265.3,581.94 L265.8,581.95 L266.3,581.97 L266.8,581.70 L267.3,581.75 L267.8,581.52 L268.3,581.48 L268.8,581.51 L269.3,581.52 L269.8,581.83 L270.3,581.77 L270.8,581.86 L271.3,581.64 L271.8,581.86 L272.3,581.78 L272.8,581.70 L273.3,581.61 L273.8,581.43 L274.3,581.24 L274.8,581.43 L275.3,581.61 L275.8,581.88 L276.3,582.00 L276.8,581.95 L277.3,581.76 L277.8,581.71 L278.3,581.80 L278.8,581.91 L279.3,581.93 L279.8,581.91 L280.3,582.00 L280.8,581.97 L281.3,581.78 L281.8,581.67 L282.3,581.59 L282.8,581.86 L283.3,581.77 L283.8,581.76 L284.3,581.59 L284.8,581.65 L285.3,581.74 L285.8,581.75 L286.3,581.63 L286.8,581.74 L287.3,581.92 L287.8,581.97 L288.3,581.71 L288.8,581.57 L289.3,581.67 L289.8,581.74 L290.3,581.85 L290.8,581.91 L291.3,582.00 L291.8,581.36 L292.3,580.92 L292.8,581.36 L293.3,581.89 L293.8,581.67 L294.3,581.65 L294.8,581.65 L295.3,581.83 L295.8,581.64 L296.3,581.68 L296.8,581.73 L297.3,581.94 L297.8,582.00 L298.3,582.00 L298.8,582.00 L299.3,581.96 L299.8,581.99 L300.3,582.00 L300.8,581.81 L301.3,581.89 L301.8,581.66 L302.3,581.76 L302.8,581.61 L303.3,581.78 L303.8,581.67 L304.3,581.59 L304.8,581.56 L305.3,581.68 L305.8,581.71 L306.3,581.61 L306.8,581.64 L307.3,581.64 L307.8,581.60 L308.3,581.58 L308.8,581.75 L309.3,581.99 L309.8,581.91 L310.3,581.76 L310.8,581.52 L311.3,581.47 L311.8,581.62 L312.3,581.87 L312.8,582.00 L313.3,582.00 L313.8,581.92 L314.3,581.72 L314.8,581.48 L315.3,581.63 L315.8,581.63 L316.3,581.82 L316.8,581.77 L317.3,581.81 L317.8,581.89 L318.3,582.00 L318.8,581.96 L319.3,581.89 L319.8,581.81 L320.3,581.89 L320.8,581.76 L321.3,581.88 L321.8,581.96 L322.3,582.00 L322.8,581.88 L323.3,581.92 L323.8,581.87 L324.3,581.72 L324.8,581.66 L325.3,581.67 L325.8,581.95 L326.3,581.99 L326.8,581.95 L327.3,581.95 L327.8,581.74 L328.3,581.66 L328.8,581.67 L329.3,581.65 L329.8,581.83 L330.3,581.60 L330.8,581.67 L331.3,581.69 L331.8,581.72 L332.3,581.76 L332.8,581.59 L333.3,581.72 L333.8,581.69 L334.3,581.64 L334.8,581.50 L335.3,581.58 L335.8,581.86 L336.3,581.92 L336.8,581.98 L337.3,581.78 L337.8,581.72 L338.3,581.65 L338.8,581.82 L339.3,581.84 L339.8,581.81 L340.3,581.81 L340.8,581.69 L341.3,581.59 L341.8,581.48 L342.3,581.38 L342.8,581.48 L343.3,581.59 L343.8,581.69 L344.3,581.75 L344.8,581.68 L345.3,581.70 L345.8,581.75 L346.3,581.83 L346.8,581.98 L347.3,582.00 L347.8,581.98 L348.3,581.79 L348.8,581.63 L349.3,581.62 L349.8,581.75 L350.3,581.85 L350.8,581.96 L351.3,581.79 L351.8,581.87 L352.3,581.83 L352.8,582.00 L353.3,581.79 L353.8,581.84 L354.3,581.81 L354.8,581.94 L355.3,581.87 L355.8,581.73 L356.3,581.74 L356.8,581.64 L357.3,581.86 L357.8,581.89 L358.3,582.00 L358.8,581.61 L359.3,581.41 L359.8,581.22 L360.3,581.02 L360.8,581.22 L361.3,581.41 L361.8,581.61 L362.3,581.64 L362.8,581.53 L363.3,581.58 L363.8,581.80 L364.3,581.92 L364.8,582.00 L365.3,581.93 L365.8,581.87 L366.3,581.87 L366.8,581.96 L367.3,581.89 L367.8,581.95 L368.3,581.76 L368.8,581.73 L369.3,581.42 L369.8,581.56 L370.3,581.67 L370.8,581.79 L371.3,581.71 L371.8,581.57 L372.3,581.53 L372.8,581.65 L373.3,581.68 L373.8,581.75 L374.3,581.65 L374.8,581.70 L375.3,581.86 L375.8,581.80 L376.3,581.82 L376.8,581.66 L377.3,581.74 L377.8,581.81 L378.3,581.91 L378.8,581.91 L379.3,582.00 L379.8,581.94 L380.3,581.91 L380.8,581.77 L381.3,581.75 L381.8,581.64 L382.3,581.49 L382.8,581.64 L383.3,581.69 L383.8,581.78 L384.3,581.81 L384.8,581.96 L385.3,582.00 L385.8,582.00 L386.3,582.00 L386.8,581.78 L387.3,581.70 L387.8,581.59 L388.3,581.67 L388.8,581.73 L389.3,581.74 L389.8,581.77 L390.3,581.50 L390.8,581.55 L391.3,581.51 L391.8,581.70 L392.3,581.67 L392.8,581.61 L393.3,581.43 L393.8,581.56 L394.3,581.61 L394.8,581.74 L395.3,581.85 L395.8,582.00 L396.3,582.00 L396.8,581.37 L397.3,580.95 L397.8,581.37 L398.3,581.85 L398.8,581.72 L399.3,581.75 L399.8,581.76 L400.3,581.84 L400.8,581.83 L401.3,581.79 L401.8,581.76 L402.3,581.85 L402.8,581.81 L403.3,581.70 L403.8,581.64 L404.3,581.81 L404.8,581.88 L405.3,581.80 L405.8,581.85 L406.3,582.00 L406.8,582.00 L407.3,581.97 L407.8,581.92 L408.3,581.71 L408.8,581.62 L409.3,581.53 L409.8,581.44 L410.3,581.53 L410.8,581.62 L411.3,581.71 L411.8,581.68 L412.3,581.55 L412.8,581.43 L413.3,581.30 L413.8,581.40 L414.3,581.26 L414.8,581.40 L415.3,581.53 L415.8,581.67 L416.3,581.91 L416.8,582.00 L417.3,582.00 L417.8,581.84 L418.3,581.90 L418.8,581.87 L419.3,582.00 L419.8,582.00 L420.3,581.88 L420.8,581.92 L421.3,581.94 L421.8,582.00 L422.3,582.00 L422.8,581.95 L423.3,581.70 L423.8,581.79 L424.3,581.57 L424.8,581.59 L425.3,581.48 L425.8,581.59 L426.3,581.69 L426.8,581.73 L427.3,581.70 L427.8,581.94 L428.3,581.93 L428.8,581.72 L429.3,581.55 L429.8,581.78 L430.3,582.00 L430.8,582.00 L431.3,582.00 L431.8,582.00 L432.3,582.00 L432.8,582.00 L433.3,581.76 L433.8,581.71 L434.3,581.61 L434.8,581.75 L435.3,581.55 L435.8,581.57 L436.3,581.41 L436.8,581.67 L437.3,581.87 L437.8,581.98 L438.3,581.68 L438.8,581.72 L439.3,581.64 L439.8,581.53 L440.3,581.27 L440.8,581.00 L441.3,581.27 L441.8,581.53 L442.3,581.65 L442.8,581.71 L443.3,581.69 L443.8,581.75 L444.3,581.53 L444.8,581.59 L445.3,581.53 L445.8,581.69 L446.3,581.73 L446.8,581.96 L447.3,581.83 L447.8,581.80 L448.3,581.79 L448.8,581.99 L449.3,581.91 L449.8,581.80 L450.3,581.62 L450.8,581.73 L451.3,581.77 L451.8,581.71 L452.3,581.63 L452.8,581.54 L453.3,581.45 L453.8,581.54 L454.3,581.63 L454.8,581.71 L455.3,581.96 L455.8,581.91 L456.3,581.73 L456.8,581.51 L457.3,581.50 L457.8,581.57 L458.3,581.56 L458.8,581.61 L459.3,581.65 L459.8,581.82 L460.3,582.00 L460.8,582.00 L461.3,581.82 L461.8,581.81 L462.3,581.76 L462.8,582.00 L463.3,582.00 L463.8,582.00 L464.3,581.98 L464.8,581.99 L465.3,582.00 L465.8,582.00 L466.3,581.84 L466.8,581.89 L467.3,582.00 L467.8,581.90 L468.3,581.83 L468.8,581.72 L469.3,581.90 L469.8,581.71 L470.3,581.70 L470.8,581.58 L471.3,581.60" fill="none" stroke="#231f20" stroke-width="1.2"/>
<text x="86" y="597.5" font-size="8" text-anchor="end" fill="#5cc45c" font-weight="normal" textLength="32.9" lengthAdjust="spacingAndGlyphs" stroke="#5cc45c" stroke-width="0.18">Hemogen</text>
<text x="97.2" y="590.45" font-size="8.8" text-anchor="end" fill="#231f20" font-weight="normal" textLength="7.9" lengthAdjust="spacingAndGlyphs" stroke="#231f20" stroke-width="0.18">90</text>
<text x="97.2" y="602.85" font-size="8.8" text-anchor="end" fill="#231f20" font-weight="normal" textLength="3.95" lengthAdjust="spacingAndGlyphs" stroke="#231f20" stroke-width="0.18">0</text>
<line x1="102.3" y1="587.25" x2="109.8" y2="587.25" stroke="#2a2a2a" stroke-width="1.2"/>
<line x1="102.3" y1="600.25" x2="109.8" y2="600.25" stroke="#2a2a2a" stroke-width="1.2"/>
<path d="M110.8,602.25 L110.8,600.60 L111.3,600.47 L111.8,600.03 L112.3,600.26 L112.8,600.47 L113.3,600.58 L113.8,600.37 L114.3,600.35 L114.8,600.37 L115.3,600.51 L115.8,600.26 L116.3,600.56 L116.8,600.65 L117.3,600.59 L117.8,600.46 L118.3,600.44 L118.8,600.49 L119.3,600.35 L119.8,600.40 L120.3,600.54 L120.8,600.52 L121.3,600.51 L121.8,600.46 L122.3,600.75 L122.8,600.66 L123.3,600.96 L123.8,600.92 L124.3,600.57 L124.8,600.40 L125.3,599.98 L125.8,600.27 L126.3,600.16 L126.8,600.23 L127.3,600.09 L127.8,600.36 L128.3,600.51 L128.8,600.54 L129.3,600.50 L129.8,600.76 L130.3,600.64 L130.8,600.46 L131.3,600.41 L131.8,600.63 L132.3,600.79 L132.8,600.47 L133.3,600.44 L133.8,600.50 L134.3,600.49 L134.8,600.71 L135.3,599.66 L135.8,598.65 L136.3,599.05 L136.8,599.51 L137.3,599.98 L137.8,599.94 L138.3,599.42 L138.8,598.91 L139.3,599.42 L139.8,599.94 L140.3,600.46 L140.8,600.52 L141.3,600.44 L141.8,600.65 L142.3,600.63 L142.8,600.82 L143.3,600.41 L143.8,600.16 L144.3,600.02 L144.8,599.52 L145.3,599.51 L145.8,600.40 L146.3,600.56 L146.8,600.56 L147.3,600.36 L147.8,600.14 L148.3,600.34 L148.8,600.54 L149.3,600.26 L149.8,600.30 L150.3,599.73 L150.8,599.01 L151.3,599.73 L151.8,600.56 L152.3,600.53 L152.8,600.66 L153.3,600.89 L153.8,600.86 L154.3,600.54 L154.8,600.25 L155.3,600.26 L155.8,600.29 L156.3,600.41 L156.8,600.43 L157.3,600.91 L157.8,601.02 L158.3,601.05 L158.8,600.94 L159.3,600.56 L159.8,600.52 L160.3,600.51 L160.8,600.65 L161.3,600.31 L161.8,600.28 L162.3,600.20 L162.8,600.49 L163.3,600.35 L163.8,599.72 L164.3,599.70 L164.8,600.03 L165.3,600.07 L165.8,600.13 L166.3,600.33 L166.8,600.40 L167.3,600.34 L167.8,600.24 L168.3,600.03 L168.8,600.38 L169.3,600.18 L169.8,600.27 L170.3,600.30 L170.8,600.29 L171.3,600.37 L171.8,600.32 L172.3,600.68 L172.8,600.87 L173.3,600.95 L173.8,600.72 L174.3,600.70 L174.8,600.67 L175.3,600.80 L175.8,600.58 L176.3,600.52 L176.8,600.34 L177.3,600.49 L177.8,600.50 L178.3,600.69 L178.8,600.76 L179.3,600.84 L179.8,600.98 L180.3,600.67 L180.8,600.71 L181.3,600.43 L181.8,600.70 L182.3,600.43 L182.8,600.44 L183.3,600.37 L183.8,600.21 L184.3,600.21 L184.8,600.10 L185.3,600.58 L185.8,600.71 L186.3,600.87 L186.8,600.64 L187.3,600.36 L187.8,600.04 L188.3,600.26 L188.8,600.39 L189.3,600.36 L189.8,600.10 L190.3,600.41 L190.8,600.45 L191.3,600.36 L191.8,599.20 L192.3,598.14 L192.8,597.72 L193.3,598.57 L193.8,599.68 L194.3,600.29 L194.8,600.63 L195.3,600.40 L195.8,599.83 L196.3,598.88 L196.8,598.58 L197.3,598.23 L197.8,599.44 L198.3,599.88 L198.8,598.80 L199.3,597.84 L199.8,597.48 L200.3,595.70 L200.8,596.22 L201.3,596.89 L201.8,597.91 L202.3,598.73 L202.8,597.20 L203.3,596.18 L203.8,594.42 L204.3,593.88 L204.8,596.35 L205.3,597.71 L205.8,599.08 L206.3,600.62 L206.8,600.33 L207.3,600.55 L207.8,600.66 L208.3,600.65 L208.8,600.24 L209.3,599.93 L209.8,599.93 L210.3,600.08 L210.8,600.01 L211.3,600.29 L211.8,600.09 L212.3,600.50 L212.8,600.50 L213.3,600.67 L213.8,600.28 L214.3,600.29 L214.8,600.24 L215.3,600.15 L215.8,600.15 L216.3,600.40 L216.8,600.90 L217.3,600.67 L217.8,599.71 L218.3,598.96 L218.8,599.71 L219.3,600.70 L219.8,600.79 L220.3,600.94 L220.8,600.87 L221.3,600.53 L221.8,600.52 L222.3,600.61 L222.8,600.61 L223.3,600.44 L223.8,600.48 L224.3,600.58 L224.8,600.32 L225.3,600.18 L225.8,600.05 L226.3,599.92 L226.8,600.05 L227.3,600.19 L227.8,600.32 L228.3,600.14 L228.8,600.44 L229.3,600.58 L229.8,600.58 L230.3,600.48 L230.8,600.35 L231.3,600.47 L231.8,600.27 L232.3,600.41 L232.8,600.40 L233.3,600.36 L233.8,600.38 L234.3,600.55 L234.8,600.65 L235.3,600.75 L235.8,600.38 L236.3,600.58 L236.8,600.16 L237.3,600.34 L237.8,600.40 L238.3,600.61 L238.8,600.53 L239.3,600.35 L239.8,600.29 L240.3,600.46 L240.8,600.20 L241.3,600.45 L241.8,600.22 L242.3,600.72 L242.8,600.54 L243.3,600.93 L243.8,600.87 L244.3,600.83 L244.8,600.38 L245.3,600.29 L245.8,600.16 L246.3,599.88 L246.8,599.59 L247.3,599.88 L247.8,600.16 L248.3,600.42 L248.8,600.31 L249.3,600.31 L249.8,600.33 L250.3,600.09 L250.8,600.05 L251.3,600.48 L251.8,600.85 L252.3,600.60 L252.8,600.52 L253.3,600.57 L253.8,600.63 L254.3,600.66 L254.8,600.31 L255.3,600.09 L255.8,599.74 L256.3,600.09 L256.8,600.67 L257.3,600.46 L257.8,600.54 L258.3,600.19 L258.8,600.20 L259.3,600.39 L259.8,600.36 L260.3,600.33 L260.8,600.24 L261.3,600.37 L261.8,600.70 L262.3,600.27 L262.8,599.20 L263.3,597.80 L263.8,598.17 L264.3,599.17 L264.8,600.44 L265.3,600.39 L265.8,600.01 L266.3,600.43 L266.8,600.37 L267.3,600.76 L267.8,600.51 L268.3,600.78 L268.8,600.35 L269.3,600.59 L269.8,600.46 L270.3,600.69 L270.8,600.54 L271.3,600.76 L271.8,600.65 L272.3,600.34 L272.8,600.18 L273.3,600.06 L273.8,600.40 L274.3,600.44 L274.8,600.68 L275.3,600.34 L275.8,600.07 L276.3,599.98 L276.8,600.48 L277.3,600.65 L277.8,600.98 L278.3,600.97 L278.8,601.01 L279.3,600.89 L279.8,600.86 L280.3,600.79 L280.8,600.50 L281.3,600.07 L281.8,599.85 L282.3,600.04 L282.8,600.44 L283.3,600.41 L283.8,600.42 L284.3,600.33 L284.8,600.40 L285.3,600.33 L285.8,600.00 L286.3,600.07 L286.8,599.86 L287.3,600.29 L287.8,600.16 L288.3,600.04 L288.8,599.63 L289.3,599.22 L289.8,599.63 L290.3,600.04 L290.8,600.87 L291.3,600.49 L291.8,600.58 L292.3,600.54 L292.8,600.72 L293.3,600.67 L293.8,600.69 L294.3,600.89 L294.8,600.88 L295.3,600.98 L295.8,600.07 L296.3,599.69 L296.8,599.31 L297.3,598.93 L297.8,599.31 L298.3,599.69 L298.8,600.07 L299.3,600.50 L299.8,600.18 L300.3,600.26 L300.8,600.38 L301.3,600.36 L301.8,600.57 L302.3,600.31 L302.8,599.80 L303.3,599.15 L303.8,599.80 L304.3,600.85 L304.8,600.62 L305.3,600.51 L305.8,600.16 L306.3,600.29 L306.8,600.01 L307.3,599.63 L307.8,599.73 L308.3,599.98 L308.8,600.00 L309.3,600.33 L309.8,600.53 L310.3,600.68 L310.8,600.83 L311.3,600.38 L311.8,600.54 L312.3,600.33 L312.8,600.70 L313.3,600.70 L313.8,599.99 L314.3,599.53 L314.8,599.99 L315.3,600.63 L315.8,600.93 L316.3,600.42 L316.8,600.37 L317.3,600.27 L317.8,600.28 L318.3,600.31 L318.8,600.34 L319.3,600.63 L319.8,600.71 L320.3,600.54 L320.8,600.60 L321.3,600.20 L321.8,599.94 L322.3,600.20 L322.8,600.14 L323.3,600.19 L323.8,600.09 L324.3,599.98 L324.8,599.74 L325.3,599.86 L325.8,600.13 L326.3,600.43 L326.8,600.36 L327.3,600.35 L327.8,600.14 L328.3,600.39 L328.8,600.45 L329.3,600.84 L329.8,600.66 L330.3,600.70 L330.8,600.44 L331.3,600.44 L331.8,600.16 L332.3,599.92 L332.8,599.95 L333.3,600.27 L333.8,600.28 L334.3,600.60 L334.8,600.51 L335.3,599.86 L335.8,599.85 L336.3,599.99 L336.8,600.02 L337.3,600.38 L337.8,600.67 L338.3,600.98 L338.8,600.57 L339.3,600.57 L339.8,600.56 L340.3,600.78 L340.8,600.70 L341.3,600.40 L341.8,600.62 L342.3,600.68 L342.8,600.62 L343.3,600.67 L343.8,600.59 L344.3,600.27 L344.8,600.10 L345.3,599.92 L345.8,600.10 L346.3,600.27 L346.8,600.19 L347.3,600.05 L347.8,600.47 L348.3,600.51 L348.8,600.94 L349.3,599.82 L349.8,599.18 L350.3,599.82 L350.8,600.96 L351.3,600.64 L351.8,600.68 L352.3,600.57 L352.8,600.85 L353.3,600.68 L353.8,601.00 L354.3,600.67 L354.8,600.40 L355.3,600.01 L355.8,600.22 L356.3,600.53 L356.8,600.43 L357.3,600.17 L357.8,599.78 L358.3,600.08 L358.8,600.04 L359.3,600.20 L359.8,600.00 L360.3,600.20 L360.8,600.14 L361.3,600.29 L361.8,600.42 L362.3,600.58 L362.8,600.83 L363.3,600.61 L363.8,599.97 L364.3,598.69 L364.8,597.90 L365.3,596.76 L365.8,596.94 L366.3,598.07 L366.8,599.06 L367.3,600.03 L367.8,600.23 L368.3,600.73 L368.8,600.77 L369.3,600.53 L369.8,600.26 L370.3,599.92 L370.8,600.43 L371.3,600.70 L371.8,601.19 L372.3,601.17 L372.8,600.77 L373.3,600.28 L373.8,599.91 L374.3,599.99 L374.8,600.30 L375.3,600.14 L375.8,599.99 L376.3,599.83 L376.8,599.67 L377.3,599.15 L377.8,598.88 L378.3,599.27 L378.8,599.67 L379.3,600.06 L379.8,600.17 L380.3,600.24 L380.8,600.07 L381.3,600.22 L381.8,600.26 L382.3,600.11 L382.8,599.90 L383.3,599.94 L383.8,599.91 L384.3,600.31 L384.8,600.11 L385.3,599.89 L385.8,599.35 L386.3,598.18 L386.8,597.12 L387.3,595.89 L387.8,597.64 L388.3,598.14 L388.8,599.35 L389.3,599.46 L389.8,599.13 L390.3,599.46 L390.8,599.79 L391.3,600.12 L391.8,600.82 L392.3,600.69 L392.8,600.35 L393.3,600.46 L393.8,599.99 L394.3,599.53 L394.8,599.06 L395.3,599.53 L395.8,599.99 L396.3,600.44 L396.8,600.15 L397.3,600.31 L397.8,600.49 L398.3,600.81 L398.8,600.69 L399.3,600.54 L399.8,600.59 L400.3,600.50 L400.8,600.41 L401.3,600.26 L401.8,600.44 L402.3,600.57 L402.8,600.63 L403.3,600.66 L403.8,600.69 L404.3,600.50 L404.8,600.56 L405.3,600.78 L405.8,600.79 L406.3,600.42 L406.8,600.42 L407.3,600.32 L407.8,600.49 L408.3,600.45 L408.8,600.60 L409.3,600.44 L409.8,600.54 L410.3,600.47 L410.8,600.65 L411.3,600.64 L411.8,600.71 L412.3,600.88 L412.8,600.72 L413.3,600.93 L413.8,600.72 L414.3,600.50 L414.8,600.05 L415.3,599.86 L415.8,599.79 L416.3,599.13 L416.8,599.79 L417.3,600.25 L417.8,600.43 L418.3,600.22 L418.8,600.39 L419.3,600.13 L419.8,600.28 L420.3,600.06 L420.8,600.48 L421.3,600.34 L421.8,600.65 L422.3,600.53 L422.8,600.72 L423.3,600.47 L423.8,600.38 L424.3,600.44 L424.8,600.30 L425.3,600.58 L425.8,600.48 L426.3,600.90 L426.8,600.87 L427.3,601.01 L427.8,600.57 L428.3,600.62 L428.8,600.35 L429.3,600.55 L429.8,600.11 L430.3,600.04 L430.8,600.29 L431.3,600.24 L431.8,600.62 L432.3,600.62 L432.8,600.98 L433.3,600.20 L433.8,598.86 L434.3,597.17 L434.8,596.11 L435.3,598.16 L435.8,599.56 L436.3,600.20 L436.8,600.26 L437.3,600.06 L437.8,600.34 L438.3,600.58 L438.8,600.90 L439.3,601.02 L439.8,600.69 L440.3,600.45 L440.8,599.38 L441.3,598.37 L441.8,597.02 L442.3,597.09 L442.8,598.59 L443.3,599.63 L443.8,600.08 L444.3,600.11 L444.8,600.45 L445.3,600.73 L445.8,600.78 L446.3,600.65 L446.8,600.26 L447.3,600.41 L447.8,600.59 L448.3,600.90 L448.8,600.64 L449.3,600.70 L449.8,600.90 L450.3,600.91 L450.8,600.93 L451.3,600.51 L451.8,599.98 L452.3,599.51 L452.8,599.98 L453.3,600.21 L453.8,599.96 L454.3,600.37 L454.8,599.88 L455.3,598.97 L455.8,597.80 L456.3,597.02 L456.8,596.90 L457.3,597.93 L457.8,598.43 L458.3,598.24 L458.8,597.77 L459.3,596.84 L459.8,596.69 L460.3,596.58 L460.8,596.93 L461.3,597.88 L461.8,598.18 L462.3,597.80 L462.8,595.89 L463.3,593.74 L463.8,594.21 L464.3,595.26 L464.8,597.82 L465.3,599.06 L465.8,599.34 L466.3,598.33 L466.8,597.46 L467.3,597.39 L467.8,598.22 L468.3,599.54 L468.8,600.14 L469.3,600.26 L469.8,600.17 L470.3,600.62 L470.8,600.55 L471.3,600.83 L471.3,602.25 Z" fill="#4cbf4c"/>
<text x="86" y="616.9" font-size="8" text-anchor="end" fill="#8450a8" font-weight="normal" textLength="18.4" lengthAdjust="spacingAndGlyphs" stroke="#8450a8" stroke-width="0.18">BRG1</text>
<text x="97.2" y="609.70" font-size="8.8" text-anchor="end" fill="#231f20" font-weight="normal" textLength="7.9" lengthAdjust="spacingAndGlyphs" stroke="#231f20" stroke-width="0.18">90</text>
<text x="97.2" y="621.60" font-size="8.8" text-anchor="end" fill="#231f20" font-weight="normal" textLength="3.95" lengthAdjust="spacingAndGlyphs" stroke="#231f20" stroke-width="0.18">0</text>
<line x1="102.3" y1="606.50" x2="109.8" y2="606.50" stroke="#2a2a2a" stroke-width="1.2"/>
<line x1="102.3" y1="619.00" x2="109.8" y2="619.00" stroke="#2a2a2a" stroke-width="1.2"/>
<path d="M110.8,621.0 L110.8,618.96 L111.3,618.85 L111.8,618.94 L112.3,618.97 L112.8,619.08 L113.3,619.17 L113.8,619.13 L114.3,619.33 L114.8,619.19 L115.3,619.47 L115.8,619.30 L116.3,619.39 L116.8,619.25 L117.3,619.12 L117.8,618.92 L118.3,618.86 L118.8,618.97 L119.3,618.80 L119.8,618.90 L120.3,618.59 L120.8,618.90 L121.3,619.50 L121.8,619.18 L122.3,619.09 L122.8,619.09 L123.3,619.30 L123.8,618.82 L124.3,618.44 L124.8,618.07 L125.3,617.69 L125.8,618.07 L126.3,618.44 L126.8,618.82 L127.3,619.36 L127.8,619.19 L128.3,619.44 L128.8,619.42 L129.3,619.45 L129.8,619.35 L130.3,619.22 L130.8,619.36 L131.3,619.24 L131.8,619.21 L132.3,619.23 L132.8,619.21 L133.3,619.44 L133.8,619.28 L134.3,619.38 L134.8,619.39 L135.3,618.62 L135.8,617.50 L136.3,616.42 L136.8,617.74 L137.3,618.87 L137.8,619.38 L138.3,619.30 L138.8,619.37 L139.3,619.45 L139.8,619.71 L140.3,619.85 L140.8,619.52 L141.3,619.12 L141.8,618.76 L142.3,619.01 L142.8,619.40 L143.3,619.30 L143.8,619.22 L144.3,619.20 L144.8,619.41 L145.3,619.28 L145.8,619.08 L146.3,619.14 L146.8,619.31 L147.3,619.33 L147.8,619.33 L148.3,619.13 L148.8,619.15 L149.3,619.21 L149.8,619.05 L150.3,619.23 L150.8,619.01 L151.3,619.32 L151.8,618.94 L152.3,618.97 L152.8,618.89 L153.3,618.99 L153.8,619.25 L154.3,619.54 L154.8,619.47 L155.3,619.46 L155.8,618.77 L156.3,618.33 L156.8,617.90 L157.3,618.33 L157.8,618.77 L158.3,619.62 L158.8,619.17 L159.3,619.31 L159.8,618.89 L160.3,619.03 L160.8,619.13 L161.3,619.00 L161.8,618.81 L162.3,618.61 L162.8,618.81 L163.3,619.00 L163.8,619.58 L164.3,619.61 L164.8,619.49 L165.3,619.26 L165.8,619.20 L166.3,619.22 L166.8,619.13 L167.3,618.77 L167.8,618.97 L168.3,619.39 L168.8,619.38 L169.3,619.30 L169.8,619.25 L170.3,619.31 L170.8,619.34 L171.3,619.05 L171.8,619.11 L172.3,619.09 L172.8,619.23 L173.3,619.44 L173.8,619.17 L174.3,619.26 L174.8,619.27 L175.3,618.75 L175.8,618.29 L176.3,617.84 L176.8,618.29 L177.3,618.75 L177.8,619.57 L178.3,619.45 L178.8,618.93 L179.3,618.90 L179.8,619.04 L180.3,619.53 L180.8,619.45 L181.3,619.52 L181.8,619.28 L182.3,619.38 L182.8,619.41 L183.3,619.19 L183.8,618.93 L184.3,618.91 L184.8,619.36 L185.3,619.74 L185.8,619.88 L186.3,619.85 L186.8,619.57 L187.3,619.34 L187.8,619.34 L188.3,619.18 L188.8,619.10 L189.3,618.80 L189.8,618.79 L190.3,618.98 L190.8,618.87 L191.3,618.68 L191.8,617.88 L192.3,617.72 L192.8,618.77 L193.3,619.00 L193.8,618.96 L194.3,618.96 L194.8,619.05 L195.3,619.09 L195.8,618.53 L196.3,617.68 L196.8,617.15 L197.3,616.75 L197.8,615.59 L198.3,615.73 L198.8,616.36 L199.3,617.21 L199.8,616.23 L200.3,614.58 L200.8,613.61 L201.3,613.85 L201.8,614.84 L202.3,616.37 L202.8,617.33 L203.3,615.02 L203.8,612.83 L204.3,609.73 L204.8,610.32 L205.3,612.96 L205.8,615.92 L206.3,618.03 L206.8,618.93 L207.3,619.33 L207.8,619.35 L208.3,619.59 L208.8,618.85 L209.3,618.50 L209.8,618.15 L210.3,617.80 L210.8,618.15 L211.3,618.50 L211.8,618.76 L212.3,618.31 L212.8,617.87 L213.3,618.31 L213.8,618.76 L214.3,619.21 L214.8,618.97 L215.3,619.25 L215.8,619.21 L216.3,619.55 L216.8,619.31 L217.3,619.29 L217.8,619.20 L218.3,619.66 L218.8,618.76 L219.3,618.32 L219.8,618.76 L220.3,619.05 L220.8,619.20 L221.3,619.15 L221.8,618.86 L222.3,618.85 L222.8,619.26 L223.3,619.23 L223.8,618.88 L224.3,618.56 L224.8,618.25 L225.3,617.93 L225.8,618.25 L226.3,618.56 L226.8,618.36 L227.3,617.93 L227.8,618.36 L228.3,618.78 L228.8,619.56 L229.3,619.45 L229.8,619.29 L230.3,619.17 L230.8,619.19 L231.3,619.68 L231.8,619.35 L232.3,618.90 L232.8,618.60 L233.3,618.30 L233.8,618.00 L234.3,618.30 L234.8,618.60 L235.3,618.90 L235.8,619.62 L236.3,619.82 L236.8,619.45 L237.3,619.51 L237.8,619.28 L238.3,619.37 L238.8,619.37 L239.3,619.29 L239.8,619.27 L240.3,618.83 L240.8,618.67 L241.3,618.48 L241.8,618.70 L242.3,618.94 L242.8,619.23 L243.3,619.44 L243.8,619.38 L244.3,619.08 L244.8,618.88 L245.3,618.74 L245.8,619.14 L246.3,619.20 L246.8,619.43 L247.3,619.06 L247.8,619.06 L248.3,618.88 L248.8,619.32 L249.3,619.11 L249.8,619.26 L250.3,618.81 L250.8,619.21 L251.3,619.32 L251.8,619.38 L252.3,619.15 L252.8,619.14 L253.3,619.15 L253.8,619.16 L254.3,618.84 L254.8,619.01 L255.3,619.21 L255.8,619.62 L256.3,619.45 L256.8,619.00 L257.3,618.96 L257.8,618.89 L258.3,618.93 L258.8,618.74 L259.3,618.86 L259.8,618.83 L260.3,618.45 L260.8,618.08 L261.3,617.70 L261.8,618.08 L262.3,618.45 L262.8,617.98 L263.3,617.06 L263.8,616.99 L264.3,618.44 L264.8,619.40 L265.3,619.08 L265.8,619.13 L266.3,618.90 L266.8,618.67 L267.3,618.14 L267.8,617.62 L268.3,618.14 L268.8,618.67 L269.3,618.96 L269.8,618.96 L270.3,619.08 L270.8,618.67 L271.3,618.13 L271.8,618.67 L272.3,618.97 L272.8,618.79 L273.3,618.70 L273.8,618.86 L274.3,618.84 L274.8,618.87 L275.3,618.86 L275.8,619.29 L276.3,619.14 L276.8,619.00 L277.3,618.72 L277.8,618.87 L278.3,618.89 L278.8,618.89 L279.3,618.72 L279.8,618.93 L280.3,618.93 L280.8,618.92 L281.3,618.71 L281.8,618.70 L282.3,618.90 L282.8,619.10 L283.3,619.17 L283.8,619.26 L284.3,619.43 L284.8,619.53 L285.3,619.61 L285.8,619.23 L286.3,619.16 L286.8,618.81 L287.3,619.06 L287.8,618.75 L288.3,618.90 L288.8,618.97 L289.3,619.27 L289.8,619.01 L290.3,618.82 L290.8,618.64 L291.3,618.40 L291.8,617.60 L292.3,618.40 L292.8,619.28 L293.3,619.05 L293.8,618.88 L294.3,618.94 L294.8,618.49 L295.3,617.79 L295.8,618.49 L296.3,618.89 L296.8,618.69 L297.3,618.68 L297.8,618.71 L298.3,618.86 L298.8,619.14 L299.3,619.52 L299.8,619.83 L300.3,619.48 L300.8,619.29 L301.3,619.16 L301.8,619.29 L302.3,619.05 L302.8,618.98 L303.3,618.80 L303.8,619.10 L304.3,619.01 L304.8,619.04 L305.3,619.14 L305.8,619.00 L306.3,618.86 L306.8,618.69 L307.3,618.51 L307.8,618.69 L308.3,618.86 L308.8,619.03 L309.3,619.16 L309.8,619.04 L310.3,619.15 L310.8,619.22 L311.3,619.52 L311.8,619.37 L312.3,618.97 L312.8,618.68 L313.3,618.87 L313.8,619.05 L314.3,618.92 L314.8,619.24 L315.3,619.35 L315.8,619.68 L316.3,619.35 L316.8,619.00 L317.3,618.81 L317.8,618.42 L318.3,618.03 L318.8,617.64 L319.3,618.03 L319.8,618.42 L320.3,618.81 L320.8,619.33 L321.3,619.37 L321.8,619.58 L322.3,619.34 L322.8,618.87 L323.3,618.67 L323.8,618.40 L324.3,618.67 L324.8,618.93 L325.3,619.34 L325.8,619.66 L326.3,619.54 L326.8,619.30 L327.3,618.96 L327.8,619.03 L328.3,619.22 L328.8,619.47 L329.3,619.19 L329.8,619.26 L330.3,619.23 L330.8,619.29 L331.3,618.96 L331.8,619.07 L332.3,619.23 L332.8,619.33 L333.3,619.32 L333.8,619.25 L334.3,618.43 L334.8,617.45 L335.3,618.10 L335.8,618.86 L336.3,619.09 L336.8,619.33 L337.3,619.13 L337.8,619.31 L338.3,619.43 L338.8,619.51 L339.3,619.51 L339.8,619.43 L340.3,619.15 L340.8,618.90 L341.3,619.08 L341.8,619.43 L342.3,619.59 L342.8,619.23 L343.3,619.35 L343.8,619.50 L344.3,619.49 L344.8,619.31 L345.3,619.26 L345.8,619.42 L346.3,619.59 L346.8,619.31 L347.3,619.12 L347.8,619.11 L348.3,619.21 L348.8,619.19 L349.3,619.06 L349.8,619.18 L350.3,619.20 L350.8,619.37 L351.3,619.51 L351.8,619.66 L352.3,619.22 L352.8,618.94 L353.3,618.89 L353.8,619.11 L354.3,618.90 L354.8,619.10 L355.3,619.02 L355.8,619.44 L356.3,619.45 L356.8,619.42 L357.3,619.47 L357.8,618.90 L358.3,618.60 L358.8,618.31 L359.3,618.01 L359.8,618.31 L360.3,618.60 L360.8,618.90 L361.3,619.19 L361.8,619.08 L362.3,619.00 L362.8,619.12 L363.3,619.26 L363.8,619.07 L364.3,618.89 L364.8,617.69 L365.3,616.35 L365.8,614.82 L366.3,615.33 L366.8,616.28 L367.3,617.73 L367.8,618.31 L368.3,617.86 L368.8,618.31 L369.3,618.75 L369.8,619.63 L370.3,619.14 L370.8,619.19 L371.3,618.89 L371.8,619.26 L372.3,619.02 L372.8,618.99 L373.3,619.14 L373.8,619.57 L374.3,619.79 L374.8,619.62 L375.3,619.65 L375.8,619.48 L376.3,619.64 L376.8,619.37 L377.3,619.30 L377.8,619.16 L378.3,619.29 L378.8,619.23 L379.3,618.97 L379.8,618.72 L380.3,619.13 L380.8,619.40 L381.3,619.02 L381.8,618.84 L382.3,618.66 L382.8,618.48 L383.3,618.62 L383.8,618.81 L384.3,619.01 L384.8,619.73 L385.3,619.27 L385.8,618.81 L386.3,617.46 L386.8,616.07 L387.3,614.58 L387.8,615.19 L388.3,616.31 L388.8,618.01 L389.3,618.89 L389.8,618.58 L390.3,618.27 L390.8,618.19 L391.3,617.85 L391.8,618.19 L392.3,618.53 L392.8,618.86 L393.3,619.20 L393.8,619.37 L394.3,619.28 L394.8,619.40 L395.3,619.44 L395.8,619.63 L396.3,619.60 L396.8,619.48 L397.3,619.36 L397.8,619.11 L398.3,619.15 L398.8,619.15 L399.3,619.45 L399.8,619.09 L400.3,618.77 L400.8,618.57 L401.3,619.07 L401.8,619.32 L402.3,619.21 L402.8,618.95 L403.3,617.23 L403.8,617.52 L404.3,618.46 L404.8,618.09 L405.3,617.72 L405.8,618.09 L406.3,618.46 L406.8,618.83 L407.3,619.02 L407.8,618.87 L408.3,619.09 L408.8,619.38 L409.3,619.50 L409.8,619.26 L410.3,619.06 L410.8,619.17 L411.3,619.32 L411.8,619.33 L412.3,618.87 L412.8,618.54 L413.3,618.20 L413.8,618.54 L414.3,618.87 L414.8,619.38 L415.3,619.23 L415.8,619.04 L416.3,618.80 L416.8,618.96 L417.3,619.00 L417.8,619.29 L418.3,619.14 L418.8,619.55 L419.3,619.50 L419.8,619.39 L420.3,619.02 L420.8,618.81 L421.3,618.42 L421.8,618.03 L422.3,617.64 L422.8,618.03 L423.3,618.42 L423.8,618.81 L424.3,619.46 L424.8,619.60 L425.3,619.23 L425.8,619.30 L426.3,618.90 L426.8,619.21 L427.3,619.05 L427.8,619.18 L428.3,619.07 L428.8,618.99 L429.3,618.91 L429.8,618.60 L430.3,618.73 L430.8,619.06 L431.3,619.13 L431.8,619.35 L432.3,619.08 L432.8,619.36 L433.3,619.25 L433.8,617.43 L434.3,614.93 L434.8,613.57 L435.3,616.36 L435.8,618.14 L436.3,617.78 L436.8,618.14 L437.3,618.49 L437.8,618.85 L438.3,619.18 L438.8,618.93 L439.3,618.89 L439.8,618.67 L440.3,618.93 L440.8,618.73 L441.3,618.20 L441.8,617.71 L442.3,616.75 L442.8,615.96 L443.3,616.47 L443.8,617.07 L444.3,617.71 L444.8,618.28 L445.3,618.74 L445.8,619.23 L446.3,619.09 L446.8,618.95 L447.3,619.29 L447.8,619.23 L448.3,619.17 L448.8,618.61 L449.3,618.02 L449.8,618.61 L450.3,618.72 L450.8,618.96 L451.3,619.58 L451.8,619.48 L452.3,619.34 L452.8,619.25 L453.3,619.15 L453.8,619.20 L454.3,619.10 L454.8,619.35 L455.3,619.03 L455.8,619.20 L456.3,619.27 L456.8,618.79 L457.3,618.33 L457.8,617.64 L458.3,617.02 L458.8,616.28 L459.3,616.09 L459.8,615.05 L460.3,614.76 L460.8,613.43 L461.3,614.16 L461.8,614.53 L462.3,615.07 L462.8,615.54 L463.3,616.52 L463.8,617.25 L464.3,616.87 L464.8,615.28 L465.3,614.17 L465.8,614.30 L466.3,615.47 L466.8,617.08 L467.3,618.07 L467.8,618.68 L468.3,618.43 L468.8,618.17 L469.3,618.43 L469.8,618.68 L470.3,618.94 L470.8,619.24 L471.3,618.92 L471.3,621.0 Z" fill="#8a5ce6"/>
<text x="86" y="636.9" font-size="8" text-anchor="end" fill="#e0409c" font-weight="normal" textLength="23.5" lengthAdjust="spacingAndGlyphs" stroke="#e0409c" stroke-width="0.18">GATA1</text>
<text x="97.2" y="628.45" font-size="8.8" text-anchor="end" fill="#231f20" font-weight="normal" textLength="7.9" lengthAdjust="spacingAndGlyphs" stroke="#231f20" stroke-width="0.18">15</text>
<text x="97.2" y="640.70" font-size="8.8" text-anchor="end" fill="#231f20" font-weight="normal" textLength="3.95" lengthAdjust="spacingAndGlyphs" stroke="#231f20" stroke-width="0.18">0</text>
<line x1="102.3" y1="625.25" x2="109.8" y2="625.25" stroke="#2a2a2a" stroke-width="1.2"/>
<line x1="102.3" y1="638.10" x2="109.8" y2="638.10" stroke="#2a2a2a" stroke-width="1.2"/>
<path d="M110.8,640.1 L110.8,638.51 L111.3,637.31 L111.8,637.60 L112.3,638.23 L112.8,638.27 L113.3,638.63 L113.8,638.70 L114.3,638.95 L114.8,638.66 L115.3,638.74 L115.8,638.61 L116.3,638.69 L116.8,638.63 L117.3,638.52 L117.8,638.35 L118.3,638.44 L118.8,638.45 L119.3,638.48 L119.8,638.47 L120.3,638.74 L120.8,638.89 L121.3,638.75 L121.8,638.59 L122.3,638.71 L122.8,638.73 L123.3,638.81 L123.8,638.53 L124.3,638.75 L124.8,638.43 L125.3,638.16 L125.8,637.88 L126.3,638.16 L126.8,638.43 L127.3,638.73 L127.8,638.63 L128.3,638.90 L128.8,638.87 L129.3,638.65 L129.8,638.33 L130.3,638.15 L130.8,638.28 L131.3,638.59 L131.8,638.76 L132.3,638.74 L132.8,638.72 L133.3,638.53 L133.8,638.75 L134.3,638.78 L134.8,639.09 L135.3,639.06 L135.8,639.13 L136.3,639.11 L136.8,639.03 L137.3,638.51 L137.8,638.33 L138.3,638.14 L138.8,638.33 L139.3,638.51 L139.8,638.87 L140.3,638.72 L140.8,638.75 L141.3,638.71 L141.8,638.92 L142.3,638.68 L142.8,638.80 L143.3,638.82 L143.8,639.04 L144.3,638.87 L144.8,638.71 L145.3,638.73 L145.8,638.69 L146.3,638.79 L146.8,638.72 L147.3,639.08 L147.8,639.07 L148.3,638.95 L148.8,638.60 L149.3,638.60 L149.8,638.62 L150.3,638.95 L150.8,638.79 L151.3,638.87 L151.8,638.76 L152.3,638.92 L152.8,638.71 L153.3,638.47 L153.8,638.53 L154.3,638.25 L154.8,637.79 L155.3,638.25 L155.8,638.59 L156.3,638.59 L156.8,638.61 L157.3,638.85 L157.8,638.73 L158.3,638.77 L158.8,638.74 L159.3,638.66 L159.8,638.76 L160.3,638.26 L160.8,637.82 L161.3,638.26 L161.8,638.93 L162.3,638.93 L162.8,639.06 L163.3,638.86 L163.8,638.84 L164.3,638.72 L164.8,638.61 L165.3,638.71 L165.8,638.67 L166.3,638.78 L166.8,638.59 L167.3,638.50 L167.8,638.60 L168.3,638.48 L168.8,638.52 L169.3,638.63 L169.8,638.76 L170.3,638.82 L170.8,638.48 L171.3,638.43 L171.8,638.37 L172.3,638.47 L172.8,638.48 L173.3,638.57 L173.8,638.64 L174.3,638.71 L174.8,638.88 L175.3,638.88 L175.8,638.92 L176.3,638.76 L176.8,638.73 L177.3,638.64 L177.8,638.66 L178.3,638.65 L178.8,638.82 L179.3,638.59 L179.8,638.55 L180.3,638.36 L180.8,638.46 L181.3,638.44 L181.8,638.18 L182.3,637.92 L182.8,637.66 L183.3,637.92 L183.8,638.18 L184.3,638.44 L184.8,638.54 L185.3,638.47 L185.8,638.56 L186.3,638.52 L186.8,638.47 L187.3,638.25 L187.8,638.59 L188.3,638.68 L188.8,638.53 L189.3,638.37 L189.8,638.20 L190.3,638.03 L190.8,638.20 L191.3,638.37 L191.8,638.53 L192.3,638.47 L192.8,638.74 L193.3,638.90 L193.8,638.85 L194.3,638.30 L194.8,637.90 L195.3,638.30 L195.8,639.00 L196.3,638.48 L196.8,638.25 L197.3,638.48 L197.8,638.79 L198.3,638.44 L198.8,638.18 L199.3,638.41 L199.8,638.58 L200.3,638.71 L200.8,638.94 L201.3,638.97 L201.8,638.91 L202.3,636.90 L202.8,631.84 L203.3,628.11 L203.8,633.48 L204.3,638.59 L204.8,638.80 L205.3,638.91 L205.8,638.76 L206.3,638.74 L206.8,638.57 L207.3,638.47 L207.8,638.42 L208.3,638.71 L208.8,638.89 L209.3,638.96 L209.8,638.66 L210.3,638.64 L210.8,638.54 L211.3,638.56 L211.8,638.48 L212.3,638.35 L212.8,638.65 L213.3,638.81 L213.8,638.97 L214.3,638.67 L214.8,638.72 L215.3,638.81 L215.8,638.97 L216.3,638.96 L216.8,638.74 L217.3,638.77 L217.8,638.84 L218.3,638.84 L218.8,638.61 L219.3,638.38 L219.8,638.42 L220.3,638.77 L220.8,638.96 L221.3,638.93 L221.8,638.58 L222.3,638.47 L222.8,638.34 L223.3,638.68 L223.8,638.76 L224.3,639.03 L224.8,638.80 L225.3,638.76 L225.8,638.62 L226.3,638.87 L226.8,638.75 L227.3,638.72 L227.8,638.67 L228.3,638.87 L228.8,639.00 L229.3,638.55 L229.8,638.26 L230.3,637.83 L230.8,638.10 L231.3,638.25 L231.8,638.40 L232.3,638.55 L232.8,638.26 L233.3,637.81 L233.8,638.26 L234.3,638.66 L234.8,638.82 L235.3,639.15 L235.8,638.92 L236.3,638.76 L236.8,638.60 L237.3,638.45 L237.8,638.44 L238.3,638.34 L238.8,638.68 L239.3,638.87 L239.8,638.81 L240.3,638.67 L240.8,638.69 L241.3,639.02 L241.8,638.91 L242.3,638.90 L242.8,638.85 L243.3,638.95 L243.8,638.77 L244.3,638.58 L244.8,638.78 L245.3,638.70 L245.8,638.77 L246.3,638.53 L246.8,638.79 L247.3,638.81 L247.8,639.01 L248.3,638.80 L248.8,638.88 L249.3,638.69 L249.8,638.71 L250.3,638.38 L250.8,638.60 L251.3,638.61 L251.8,638.88 L252.3,638.88 L252.8,638.94 L253.3,638.91 L253.8,638.73 L254.3,638.88 L254.8,638.99 L255.3,639.12 L255.8,638.99 L256.3,639.04 L256.8,638.73 L257.3,638.66 L257.8,638.30 L258.3,638.37 L258.8,638.31 L259.3,638.33 L259.8,638.15 L260.3,637.96 L260.8,638.15 L261.3,638.33 L261.8,638.44 L262.3,638.35 L262.8,638.31 L263.3,638.33 L263.8,638.52 L264.3,638.50 L264.8,638.74 L265.3,638.74 L265.8,638.86 L266.3,638.56 L266.8,638.34 L267.3,638.55 L267.8,638.81 L268.3,638.95 L268.8,638.72 L269.3,638.81 L269.8,638.65 L270.3,638.86 L270.8,638.89 L271.3,638.82 L271.8,638.58 L272.3,638.28 L272.8,638.32 L273.3,638.44 L273.8,638.40 L274.3,638.49 L274.8,638.51 L275.3,638.56 L275.8,638.50 L276.3,638.42 L276.8,638.59 L277.3,638.69 L277.8,638.89 L278.3,638.86 L278.8,638.80 L279.3,638.57 L279.8,638.52 L280.3,638.60 L280.8,638.56 L281.3,638.54 L281.8,638.52 L282.3,638.81 L282.8,638.72 L283.3,638.59 L283.8,638.25 L284.3,638.26 L284.8,638.58 L285.3,638.82 L285.8,639.04 L286.3,638.80 L286.8,638.88 L287.3,638.75 L287.8,638.63 L288.3,638.42 L288.8,638.49 L289.3,638.33 L289.8,638.15 L290.3,638.33 L290.8,638.52 L291.3,638.55 L291.8,638.67 L292.3,638.75 L292.8,639.00 L293.3,639.01 L293.8,638.93 L294.3,638.79 L294.8,638.87 L295.3,638.76 L295.8,638.70 L296.3,638.58 L296.8,638.68 L297.3,638.71 L297.8,638.68 L298.3,638.53 L298.8,638.63 L299.3,638.71 L299.8,638.62 L300.3,638.64 L300.8,638.65 L301.3,638.59 L301.8,638.43 L302.3,638.54 L302.8,638.61 L303.3,638.73 L303.8,638.50 L304.3,638.61 L304.8,638.68 L305.3,638.84 L305.8,638.84 L306.3,638.60 L306.8,638.64 L307.3,638.78 L307.8,638.83 L308.3,638.72 L308.8,638.63 L309.3,638.72 L309.8,638.73 L310.3,638.87 L310.8,638.88 L311.3,638.88 L311.8,638.61 L312.3,638.74 L312.8,638.86 L313.3,638.90 L313.8,638.60 L314.3,638.37 L314.8,638.37 L315.3,638.42 L315.8,638.66 L316.3,638.56 L316.8,638.54 L317.3,638.48 L317.8,638.79 L318.3,638.82 L318.8,638.55 L319.3,638.36 L319.8,638.56 L320.3,638.55 L320.8,638.44 L321.3,638.55 L321.8,638.84 L322.3,638.86 L322.8,638.78 L323.3,638.48 L323.8,638.61 L324.3,638.39 L324.8,638.72 L325.3,638.89 L325.8,639.06 L326.3,638.77 L326.8,638.50 L327.3,638.65 L327.8,638.63 L328.3,638.54 L328.8,638.51 L329.3,638.61 L329.8,638.59 L330.3,638.55 L330.8,638.53 L331.3,638.78 L331.8,638.86 L332.3,639.07 L332.8,638.95 L333.3,638.89 L333.8,638.67 L334.3,638.78 L334.8,638.37 L335.3,638.04 L335.8,637.70 L336.3,638.04 L336.8,638.37 L337.3,638.34 L337.8,638.50 L338.3,638.74 L338.8,638.76 L339.3,638.79 L339.8,638.56 L340.3,638.58 L340.8,638.53 L341.3,638.54 L341.8,638.68 L342.3,638.51 L342.8,638.62 L343.3,638.55 L343.8,638.74 L344.3,638.67 L344.8,638.53 L345.3,638.43 L345.8,638.44 L346.3,638.45 L346.8,638.38 L347.3,638.60 L347.8,638.87 L348.3,638.87 L348.8,638.62 L349.3,638.38 L349.8,638.54 L350.3,638.84 L350.8,639.04 L351.3,638.94 L351.8,638.50 L352.3,638.30 L352.8,638.09 L353.3,638.30 L353.8,638.50 L354.3,638.71 L354.8,638.96 L355.3,638.92 L355.8,638.97 L356.3,638.75 L356.8,638.84 L357.3,638.71 L357.8,638.60 L358.3,638.50 L358.8,638.32 L359.3,638.29 L359.8,638.49 L360.3,638.52 L360.8,638.66 L361.3,638.58 L361.8,638.59 L362.3,638.57 L362.8,638.48 L363.3,638.48 L363.8,638.67 L364.3,638.60 L364.8,638.70 L365.3,638.63 L365.8,638.76 L366.3,638.73 L366.8,638.74 L367.3,638.85 L367.8,638.82 L368.3,638.60 L368.8,638.49 L369.3,638.45 L369.8,638.64 L370.3,638.54 L370.8,638.44 L371.3,638.33 L371.8,638.50 L372.3,638.62 L372.8,638.63 L373.3,638.40 L373.8,638.28 L374.3,638.48 L374.8,638.80 L375.3,639.14 L375.8,638.98 L376.3,638.70 L376.8,638.72 L377.3,638.72 L377.8,638.96 L378.3,638.60 L378.8,638.65 L379.3,638.42 L379.8,638.48 L380.3,638.53 L380.8,638.63 L381.3,638.61 L381.8,638.54 L382.3,638.54 L382.8,638.58 L383.3,638.60 L383.8,638.75 L384.3,638.72 L384.8,638.54 L385.3,638.36 L385.8,638.59 L386.3,638.76 L386.8,638.86 L387.3,638.87 L387.8,638.87 L388.3,638.68 L388.8,638.57 L389.3,638.30 L389.8,636.47 L390.3,632.98 L390.8,635.12 L391.3,638.69 L391.8,638.88 L392.3,638.71 L392.8,638.58 L393.3,638.70 L393.8,638.50 L394.3,638.72 L394.8,638.64 L395.3,638.88 L395.8,638.64 L396.3,638.53 L396.8,638.67 L397.3,638.81 L397.8,639.00 L398.3,638.95 L398.8,638.94 L399.3,638.75 L399.8,638.46 L400.3,638.70 L400.8,638.53 L401.3,638.80 L401.8,638.46 L402.3,638.64 L402.8,638.35 L403.3,638.48 L403.8,638.66 L404.3,638.81 L404.8,638.67 L405.3,638.46 L405.8,638.62 L406.3,638.62 L406.8,638.56 L407.3,638.30 L407.8,638.32 L408.3,638.33 L408.8,638.33 L409.3,638.39 L409.8,638.09 L410.3,638.39 L410.8,638.65 L411.3,638.45 L411.8,638.60 L412.3,638.67 L412.8,638.78 L413.3,638.81 L413.8,638.66 L414.3,638.84 L414.8,639.03 L415.3,639.09 L415.8,639.00 L416.3,638.22 L416.8,637.74 L417.3,638.22 L417.8,638.38 L418.3,638.65 L418.8,638.82 L419.3,638.90 L419.8,638.90 L420.3,638.74 L420.8,638.78 L421.3,638.57 L421.8,638.80 L422.3,638.89 L422.8,638.98 L423.3,639.05 L423.8,638.87 L424.3,638.70 L424.8,638.74 L425.3,638.82 L425.8,638.92 L426.3,638.60 L426.8,638.51 L427.3,638.37 L427.8,638.37 L428.3,638.38 L428.8,638.68 L429.3,638.80 L429.8,638.64 L430.3,638.54 L430.8,638.60 L431.3,638.61 L431.8,638.37 L432.3,638.44 L432.8,638.77 L433.3,638.99 L433.8,638.86 L434.3,638.59 L434.8,638.52 L435.3,638.58 L435.8,638.51 L436.3,638.72 L436.8,638.70 L437.3,638.98 L437.8,638.86 L438.3,638.67 L438.8,638.55 L439.3,638.67 L439.8,638.81 L440.3,638.93 L440.8,638.64 L441.3,638.82 L441.8,638.75 L442.3,638.78 L442.8,638.83 L443.3,638.74 L443.8,638.91 L444.3,638.65 L444.8,638.65 L445.3,638.55 L445.8,638.64 L446.3,638.67 L446.8,638.49 L447.3,638.63 L447.8,638.51 L448.3,638.78 L448.8,638.77 L449.3,638.88 L449.8,638.76 L450.3,638.82 L450.8,638.97 L451.3,639.00 L451.8,638.91 L452.3,638.68 L452.8,638.88 L453.3,638.74 L453.8,638.65 L454.3,638.33 L454.8,638.24 L455.3,638.39 L455.8,638.66 L456.3,638.64 L456.8,638.59 L457.3,638.66 L457.8,638.99 L458.3,639.09 L458.8,639.10 L459.3,639.01 L459.8,639.09 L460.3,639.08 L460.8,639.06 L461.3,638.79 L461.8,638.75 L462.3,638.51 L462.8,636.73 L463.3,631.68 L463.8,631.00 L464.3,635.55 L464.8,638.95 L465.3,639.06 L465.8,638.79 L466.3,638.94 L466.8,638.89 L467.3,638.95 L467.8,638.98 L468.3,638.73 L468.8,638.85 L469.3,638.84 L469.8,639.10 L470.3,638.96 L470.8,638.61 L471.3,638.33 L471.3,640.1 Z" fill="#d6338f"/>
<text x="86" y="655.6" font-size="8" text-anchor="end" fill="#f7941d" font-weight="normal" textLength="29.8" lengthAdjust="spacingAndGlyphs" stroke="#f7941d" stroke-width="0.18">H3K27ac</text>
<text x="97.2" y="646.95" font-size="8.8" text-anchor="end" fill="#231f20" font-weight="normal" textLength="7.9" lengthAdjust="spacingAndGlyphs" stroke="#231f20" stroke-width="0.18">90</text>
<text x="97.2" y="659.20" font-size="8.8" text-anchor="end" fill="#231f20" font-weight="normal" textLength="3.95" lengthAdjust="spacingAndGlyphs" stroke="#231f20" stroke-width="0.18">0</text>
<line x1="102.3" y1="643.75" x2="109.8" y2="643.75" stroke="#2a2a2a" stroke-width="1.2"/>
<line x1="102.3" y1="656.60" x2="109.8" y2="656.60" stroke="#2a2a2a" stroke-width="1.2"/>
<path d="M110.8,658.6 L110.8,657.02 L111.3,656.98 L111.8,656.98 L112.3,656.93 L112.8,656.97 L113.3,657.17 L113.8,657.23 L114.3,657.48 L114.8,657.44 L115.3,657.54 L115.8,656.91 L116.3,656.66 L116.8,656.46 L117.3,656.12 L117.8,655.78 L118.3,655.44 L118.8,655.78 L119.3,656.12 L119.8,656.46 L120.3,656.57 L120.8,656.90 L121.3,656.89 L121.8,657.07 L122.3,656.69 L122.8,656.57 L123.3,656.52 L123.8,656.76 L124.3,656.57 L124.8,656.47 L125.3,656.61 L125.8,656.94 L126.3,657.31 L126.8,657.08 L127.3,656.94 L127.8,657.02 L128.3,656.84 L128.8,656.61 L129.3,656.16 L129.8,656.03 L130.3,656.47 L130.8,656.59 L131.3,656.64 L131.8,656.39 L132.3,656.43 L132.8,656.76 L133.3,656.64 L133.8,656.93 L134.3,656.76 L134.8,657.10 L135.3,656.90 L135.8,657.24 L136.3,657.21 L136.8,657.05 L137.3,656.90 L137.8,656.62 L138.3,656.61 L138.8,656.38 L139.3,656.44 L139.8,656.84 L140.3,656.92 L140.8,656.70 L141.3,656.18 L141.8,656.13 L142.3,656.28 L142.8,655.75 L143.3,656.28 L143.8,656.25 L144.3,656.84 L144.8,657.03 L145.3,657.03 L145.8,656.72 L146.3,656.37 L146.8,656.62 L147.3,656.38 L147.8,656.88 L148.3,656.99 L148.8,657.17 L149.3,656.85 L149.8,656.58 L150.3,656.69 L150.8,656.56 L151.3,656.48 L151.8,656.59 L152.3,657.04 L152.8,657.41 L153.3,657.39 L153.8,656.30 L154.3,655.81 L154.8,655.31 L155.3,655.81 L155.8,656.30 L156.3,656.98 L156.8,657.01 L157.3,657.10 L157.8,656.96 L158.3,656.79 L158.8,657.13 L159.3,657.36 L159.8,656.38 L160.3,655.96 L160.8,655.54 L161.3,655.96 L161.8,656.38 L162.3,657.31 L162.8,657.01 L163.3,656.61 L163.8,656.41 L164.3,656.35 L164.8,655.89 L165.3,655.44 L165.8,654.99 L166.3,655.44 L166.8,655.89 L167.3,656.35 L167.8,656.38 L168.3,656.41 L168.8,656.48 L169.3,657.02 L169.8,657.52 L170.3,657.62 L170.8,657.62 L171.3,657.34 L171.8,657.24 L172.3,656.68 L172.8,656.69 L173.3,656.48 L173.8,656.57 L174.3,656.27 L174.8,655.77 L175.3,655.95 L175.8,656.56 L176.3,657.05 L176.8,656.47 L177.3,656.52 L177.8,656.65 L178.3,657.09 L178.8,656.80 L179.3,656.71 L179.8,656.82 L180.3,656.73 L180.8,656.98 L181.3,656.77 L181.8,656.89 L182.3,656.42 L182.8,656.44 L183.3,656.59 L183.8,656.63 L184.3,656.87 L184.8,656.72 L185.3,656.71 L185.8,656.42 L186.3,656.87 L186.8,657.23 L187.3,657.03 L187.8,656.99 L188.3,657.14 L188.8,657.61 L189.3,657.41 L189.8,657.12 L190.3,657.00 L190.8,656.95 L191.3,656.79 L191.8,656.36 L192.3,656.08 L192.8,656.42 L193.3,656.58 L193.8,657.19 L194.3,657.14 L194.8,656.61 L195.3,656.43 L195.8,656.24 L196.3,656.05 L196.8,656.22 L197.3,656.34 L197.8,656.57 L198.3,656.52 L198.8,656.53 L199.3,656.61 L199.8,656.68 L200.3,656.47 L200.8,656.26 L201.3,656.65 L201.8,656.39 L202.3,654.81 L202.8,653.39 L203.3,652.52 L203.8,652.93 L204.3,654.21 L204.8,655.44 L205.3,656.76 L205.8,656.54 L206.3,656.11 L206.8,656.49 L207.3,656.83 L207.8,656.19 L208.3,655.59 L208.8,654.98 L209.3,655.59 L209.8,656.19 L210.3,657.34 L210.8,656.95 L211.3,656.55 L211.8,656.05 L212.3,656.32 L212.8,656.35 L213.3,656.77 L213.8,656.62 L214.3,657.04 L214.8,656.93 L215.3,657.36 L215.8,656.07 L216.3,655.33 L216.8,656.07 L217.3,656.47 L217.8,656.62 L218.3,656.83 L218.8,656.78 L219.3,656.69 L219.8,656.56 L220.3,656.55 L220.8,656.50 L221.3,656.49 L221.8,656.91 L222.3,657.23 L222.8,657.17 L223.3,656.80 L223.8,656.24 L224.3,656.04 L224.8,656.23 L225.3,656.40 L225.8,656.59 L226.3,656.68 L226.8,656.70 L227.3,656.66 L227.8,656.72 L228.3,657.07 L228.8,657.11 L229.3,657.24 L229.8,657.22 L230.3,657.35 L230.8,657.32 L231.3,657.26 L231.8,657.13 L232.3,657.28 L232.8,657.31 L233.3,657.66 L233.8,657.40 L234.3,657.24 L234.8,656.79 L235.3,656.63 L235.8,656.40 L236.3,656.55 L236.8,656.90 L237.3,656.86 L237.8,656.93 L238.3,656.41 L238.8,656.86 L239.3,656.73 L239.8,656.72 L240.3,656.45 L240.8,656.57 L241.3,656.62 L241.8,656.69 L242.3,656.65 L242.8,656.91 L243.3,656.57 L243.8,656.69 L244.3,656.41 L244.8,656.94 L245.3,656.67 L245.8,656.91 L246.3,656.57 L246.8,656.46 L247.3,656.11 L247.8,655.77 L248.3,655.43 L248.8,655.77 L249.3,655.80 L249.8,655.69 L250.3,655.47 L250.8,655.96 L251.3,656.35 L251.8,656.12 L252.3,656.35 L252.8,656.57 L253.3,656.68 L253.8,656.58 L254.3,656.75 L254.8,656.67 L255.3,656.95 L255.8,656.83 L256.3,656.91 L256.8,657.23 L257.3,656.81 L257.8,656.81 L258.3,656.40 L258.8,656.61 L259.3,656.48 L259.8,656.83 L260.3,657.15 L260.8,657.29 L261.3,657.20 L261.8,656.67 L262.3,657.01 L262.8,656.83 L263.3,656.92 L263.8,656.13 L264.3,655.47 L264.8,656.13 L265.3,657.22 L265.8,656.66 L266.3,656.73 L266.8,656.54 L267.3,656.33 L267.8,655.86 L268.3,655.38 L268.8,655.86 L269.3,656.13 L269.8,656.30 L270.3,656.47 L270.8,656.63 L271.3,655.81 L271.8,654.82 L272.3,655.81 L272.8,656.16 L273.3,656.22 L273.8,656.33 L274.3,655.87 L274.8,655.40 L275.3,655.87 L275.8,656.33 L276.3,656.76 L276.8,656.93 L277.3,656.88 L277.8,656.77 L278.3,656.57 L278.8,656.85 L279.3,656.65 L279.8,657.11 L280.3,656.50 L280.8,656.54 L281.3,656.28 L281.8,656.52 L282.3,657.05 L282.8,657.12 L283.3,657.02 L283.8,657.05 L284.3,656.62 L284.8,656.61 L285.3,656.04 L285.8,656.24 L286.3,655.71 L286.8,655.17 L287.3,655.71 L287.8,656.26 L288.3,656.91 L288.8,656.64 L289.3,656.22 L289.8,655.93 L290.3,655.80 L290.8,656.54 L291.3,656.41 L291.8,656.22 L292.3,656.79 L292.8,656.74 L293.3,656.61 L293.8,656.43 L294.3,656.24 L294.8,656.05 L295.3,656.24 L295.8,656.43 L296.3,656.61 L296.8,657.30 L297.3,656.93 L297.8,656.97 L298.3,656.47 L298.8,656.66 L299.3,656.22 L299.8,656.32 L300.3,656.53 L300.8,656.38 L301.3,656.17 L301.8,655.96 L302.3,656.17 L302.8,656.38 L303.3,656.37 L303.8,656.62 L304.3,656.75 L304.8,656.93 L305.3,656.64 L305.8,656.83 L306.3,657.25 L306.8,657.56 L307.3,657.62 L307.8,657.38 L308.3,657.05 L308.8,656.94 L309.3,656.58 L309.8,656.35 L310.3,655.91 L310.8,655.86 L311.3,655.40 L311.8,654.93 L312.3,655.40 L312.8,655.86 L313.3,656.33 L313.8,657.40 L314.3,657.33 L314.8,657.50 L315.3,657.26 L315.8,656.84 L316.3,656.79 L316.8,657.00 L317.3,657.15 L317.8,657.34 L318.3,657.06 L318.8,657.08 L319.3,656.78 L319.8,656.49 L320.3,656.62 L320.8,656.33 L321.3,656.52 L321.8,656.35 L322.3,656.74 L322.8,656.65 L323.3,656.68 L323.8,656.30 L324.3,656.77 L324.8,656.92 L325.3,657.49 L325.8,657.41 L326.3,657.07 L326.8,656.76 L327.3,656.50 L327.8,657.02 L328.3,657.00 L328.8,657.37 L329.3,656.80 L329.8,656.86 L330.3,655.83 L330.8,654.86 L331.3,655.83 L331.8,656.74 L332.3,656.66 L332.8,656.88 L333.3,656.71 L333.8,656.53 L334.3,656.27 L334.8,656.00 L335.3,655.73 L335.8,655.83 L336.3,656.15 L336.8,656.48 L337.3,657.03 L337.8,656.95 L338.3,656.54 L338.8,656.35 L339.3,656.85 L339.8,657.23 L340.3,657.37 L340.8,657.41 L341.3,657.28 L341.8,656.95 L342.3,656.42 L342.8,656.16 L343.3,656.52 L343.8,656.92 L344.3,657.56 L344.8,657.36 L345.3,657.04 L345.8,656.66 L346.3,656.86 L346.8,656.81 L347.3,656.71 L347.8,656.30 L348.3,656.56 L348.8,656.63 L349.3,656.46 L349.8,656.14 L350.3,655.82 L350.8,656.14 L351.3,656.47 L351.8,657.51 L352.3,657.13 L352.8,657.07 L353.3,656.34 L353.8,655.87 L354.3,655.41 L354.8,654.95 L355.3,655.41 L355.8,655.87 L356.3,656.22 L356.8,655.92 L357.3,655.48 L357.8,655.92 L358.3,656.36 L358.8,656.36 L359.3,656.99 L359.8,656.88 L360.3,656.86 L360.8,656.49 L361.3,656.59 L361.8,656.90 L362.3,657.13 L362.8,657.47 L363.3,656.97 L363.8,656.93 L364.3,656.69 L364.8,656.00 L365.3,654.44 L365.8,653.01 L366.3,653.12 L366.8,654.95 L367.3,656.34 L367.8,656.61 L368.3,656.76 L368.8,657.09 L369.3,656.87 L369.8,656.41 L370.3,656.37 L370.8,656.62 L371.3,656.95 L371.8,657.08 L372.3,656.75 L372.8,656.74 L373.3,656.39 L373.8,656.96 L374.3,656.72 L374.8,657.09 L375.3,656.80 L375.8,656.34 L376.3,655.88 L376.8,655.42 L377.3,655.88 L377.8,656.34 L378.3,656.73 L378.8,656.54 L379.3,656.34 L379.8,656.38 L380.3,656.88 L380.8,657.15 L381.3,657.42 L381.8,656.95 L382.3,656.59 L382.8,656.42 L383.3,656.52 L383.8,656.95 L384.3,656.59 L384.8,656.85 L385.3,656.51 L385.8,657.00 L386.3,656.58 L386.8,656.57 L387.3,655.31 L387.8,654.33 L388.3,654.09 L388.8,655.34 L389.3,655.70 L389.8,656.25 L390.3,656.44 L390.8,656.08 L391.3,655.72 L391.8,656.08 L392.3,656.33 L392.8,656.35 L393.3,656.21 L393.8,656.66 L394.3,656.71 L394.8,656.56 L395.3,656.16 L395.8,656.17 L396.3,655.54 L396.8,654.91 L397.3,655.54 L397.8,656.17 L398.3,656.09 L398.8,655.39 L399.3,656.09 L399.8,656.46 L400.3,656.68 L400.8,656.79 L401.3,656.42 L401.8,656.21 L402.3,656.57 L402.8,656.52 L403.3,656.69 L403.8,656.50 L404.3,656.68 L404.8,656.76 L405.3,656.90 L405.8,657.18 L406.3,657.09 L406.8,656.92 L407.3,656.51 L407.8,655.97 L408.3,655.14 L408.8,655.97 L409.3,656.68 L409.8,656.65 L410.3,656.81 L410.8,657.14 L411.3,656.88 L411.8,656.97 L412.3,656.34 L412.8,655.89 L413.3,656.34 L413.8,656.71 L414.3,657.09 L414.8,656.91 L415.3,656.99 L415.8,656.72 L416.3,656.75 L416.8,656.67 L417.3,656.89 L417.8,657.11 L418.3,656.74 L418.8,656.21 L419.3,656.09 L419.8,655.73 L420.3,655.37 L420.8,655.73 L421.3,656.09 L421.8,656.44 L422.3,656.81 L422.8,656.54 L423.3,656.87 L423.8,656.76 L424.3,657.20 L424.8,657.02 L425.3,656.88 L425.8,656.82 L426.3,657.05 L426.8,656.83 L427.3,656.34 L427.8,656.11 L428.3,656.67 L428.8,656.81 L429.3,656.73 L429.8,656.64 L430.3,657.01 L430.8,656.93 L431.3,656.87 L431.8,656.68 L432.3,657.27 L432.8,657.01 L433.3,656.96 L433.8,656.52 L434.3,656.55 L434.8,656.49 L435.3,656.78 L435.8,656.84 L436.3,656.53 L436.8,656.23 L437.3,655.95 L437.8,656.41 L438.3,656.41 L438.8,656.57 L439.3,656.25 L439.8,656.61 L440.3,656.70 L440.8,657.18 L441.3,657.05 L441.8,657.30 L442.3,657.01 L442.8,657.12 L443.3,656.52 L443.8,655.92 L444.3,655.17 L444.8,654.35 L445.3,654.72 L445.8,654.97 L446.3,656.06 L446.8,656.58 L447.3,656.25 L447.8,656.54 L448.3,656.62 L448.8,657.15 L449.3,656.87 L449.8,657.04 L450.3,656.46 L450.8,656.46 L451.3,656.31 L451.8,656.71 L452.3,656.98 L452.8,657.24 L453.3,656.86 L453.8,656.57 L454.3,656.43 L454.8,656.67 L455.3,656.59 L455.8,656.40 L456.3,656.14 L456.8,655.80 L457.3,656.14 L457.8,656.47 L458.3,657.00 L458.8,656.78 L459.3,656.43 L459.8,655.98 L460.3,655.11 L460.8,654.73 L461.3,654.11 L461.8,653.40 L462.3,653.98 L462.8,654.44 L463.3,655.06 L463.8,655.27 L464.3,656.04 L464.8,656.08 L465.3,656.34 L465.8,656.56 L466.3,656.31 L466.8,656.07 L467.3,655.83 L467.8,656.07 L468.3,656.31 L468.8,656.56 L469.3,657.30 L469.8,657.07 L470.3,657.26 L470.8,657.39 L471.3,657.77 L471.3,658.6 Z" fill="#f7941d"/>
<text x="86" y="675.0" font-size="8" text-anchor="end" fill="#c8303e" font-weight="normal" textLength="34.1" lengthAdjust="spacingAndGlyphs" stroke="#c8303e" stroke-width="0.18">ATAC-seq</text>
<text x="97.2" y="666.70" font-size="8.8" text-anchor="end" fill="#231f20" font-weight="normal" textLength="7.9" lengthAdjust="spacingAndGlyphs" stroke="#231f20" stroke-width="0.18">30</text>
<text x="97.2" y="678.85" font-size="8.8" text-anchor="end" fill="#231f20" font-weight="normal" textLength="3.95" lengthAdjust="spacingAndGlyphs" stroke="#231f20" stroke-width="0.18">0</text>
<line x1="102.3" y1="663.50" x2="109.8" y2="663.50" stroke="#2a2a2a" stroke-width="1.2"/>
<line x1="102.3" y1="676.25" x2="109.8" y2="676.25" stroke="#2a2a2a" stroke-width="1.2"/>
<path d="M110.8,678.25 L110.8,677.32 L111.3,677.19 L111.8,677.05 L112.3,676.92 L112.8,677.05 L113.3,677.19 L113.8,677.32 L114.3,677.45 L114.8,677.28 L115.3,677.14 L115.8,677.27 L116.3,677.18 L116.8,677.05 L117.3,677.18 L117.8,677.32 L118.3,677.57 L118.8,677.56 L119.3,677.58 L119.8,677.50 L120.3,677.62 L120.8,677.55 L121.3,677.61 L121.8,677.63 L122.3,677.57 L122.8,677.53 L123.3,677.37 L123.8,677.41 L124.3,677.29 L124.8,677.21 L125.3,677.36 L125.8,677.44 L126.3,677.65 L126.8,677.50 L127.3,677.56 L127.8,677.53 L128.3,677.65 L128.8,677.52 L129.3,677.46 L129.8,677.31 L130.3,677.34 L130.8,677.32 L131.3,677.36 L131.8,677.43 L132.3,677.48 L132.8,677.58 L133.3,677.61 L133.8,677.48 L134.3,677.39 L134.8,677.33 L135.3,677.40 L135.8,673.51 L136.3,670.01 L136.8,670.09 L137.3,674.86 L137.8,677.45 L138.3,677.46 L138.8,677.35 L139.3,677.50 L139.8,677.37 L140.3,677.33 L140.8,677.33 L141.3,677.44 L141.8,677.67 L142.3,677.69 L142.8,677.77 L143.3,677.76 L143.8,677.52 L144.3,677.29 L144.8,676.06 L145.3,676.81 L145.8,677.44 L146.3,677.45 L146.8,677.46 L147.3,677.37 L147.8,677.42 L148.3,677.59 L148.8,677.51 L149.3,675.76 L149.8,673.26 L150.3,675.05 L150.8,677.06 L151.3,677.71 L151.8,677.52 L152.3,677.46 L152.8,677.32 L153.3,677.34 L153.8,677.32 L154.3,677.46 L154.8,677.40 L155.3,677.38 L155.8,677.23 L156.3,677.48 L156.8,677.48 L157.3,677.48 L157.8,677.40 L158.3,677.44 L158.8,677.42 L159.3,677.38 L159.8,677.32 L160.3,677.45 L160.8,677.57 L161.3,677.60 L161.8,677.53 L162.3,677.35 L162.8,677.39 L163.3,676.58 L163.8,671.80 L164.3,667.83 L164.8,672.41 L165.3,676.62 L165.8,677.38 L166.3,677.21 L166.8,677.39 L167.3,677.36 L167.8,677.53 L168.3,677.52 L168.8,677.60 L169.3,677.44 L169.8,677.48 L170.3,677.46 L170.8,677.62 L171.3,677.53 L171.8,677.65 L172.3,677.48 L172.8,677.46 L173.3,677.51 L173.8,677.48 L174.3,677.50 L174.8,677.28 L175.3,677.47 L175.8,677.54 L176.3,677.69 L176.8,677.62 L177.3,677.65 L177.8,677.57 L178.3,677.47 L178.8,677.32 L179.3,677.35 L179.8,677.34 L180.3,677.40 L180.8,677.49 L181.3,677.65 L181.8,677.52 L182.3,677.52 L182.8,677.47 L183.3,677.62 L183.8,677.41 L184.3,677.35 L184.8,677.32 L185.3,677.48 L185.8,677.58 L186.3,677.67 L186.8,677.65 L187.3,677.56 L187.8,677.40 L188.3,677.42 L188.8,677.54 L189.3,677.63 L189.8,677.46 L190.3,677.30 L190.8,677.13 L191.3,677.23 L191.8,674.87 L192.3,671.11 L192.8,670.13 L193.3,674.08 L193.8,677.68 L194.3,677.67 L194.8,677.70 L195.3,677.51 L195.8,677.44 L196.3,677.35 L196.8,677.47 L197.3,677.55 L197.8,677.64 L198.3,677.76 L198.8,677.57 L199.3,677.58 L199.8,677.50 L200.3,677.46 L200.8,677.28 L201.3,677.15 L201.8,675.35 L202.3,672.72 L202.8,672.88 L203.3,674.97 L203.8,677.02 L204.3,677.33 L204.8,677.37 L205.3,677.37 L205.8,677.29 L206.3,677.38 L206.8,677.39 L207.3,677.51 L207.8,677.53 L208.3,677.10 L208.8,676.75 L209.3,677.10 L209.8,677.48 L210.3,677.62 L210.8,677.36 L211.3,677.26 L211.8,677.17 L212.3,677.07 L212.8,677.17 L213.3,677.26 L213.8,677.36 L214.3,677.45 L214.8,677.52 L215.3,677.58 L215.8,677.61 L216.3,677.53 L216.8,677.34 L217.3,677.47 L217.8,677.46 L218.3,677.50 L218.8,677.26 L219.3,677.35 L219.8,677.43 L220.3,677.54 L220.8,677.32 L221.3,677.34 L221.8,677.39 L222.3,677.56 L222.8,677.48 L223.3,677.42 L223.8,677.28 L224.3,677.26 L224.8,677.30 L225.3,677.28 L225.8,677.32 L226.3,677.16 L226.8,677.34 L227.3,677.26 L227.8,677.07 L228.3,676.88 L228.8,677.07 L229.3,677.26 L229.8,677.59 L230.3,677.51 L230.8,677.45 L231.3,677.43 L231.8,677.31 L232.3,677.27 L232.8,677.30 L233.3,677.49 L233.8,677.47 L234.3,677.50 L234.8,677.45 L235.3,677.71 L235.8,677.63 L236.3,677.62 L236.8,677.57 L237.3,677.66 L237.8,677.29 L238.3,677.13 L238.8,676.97 L239.3,676.81 L239.8,676.97 L240.3,677.13 L240.8,677.29 L241.3,677.41 L241.8,677.55 L242.3,677.52 L242.8,677.45 L243.3,677.43 L243.8,677.45 L244.3,677.47 L244.8,677.46 L245.3,677.56 L245.8,677.54 L246.3,677.59 L246.8,677.52 L247.3,677.59 L247.8,677.65 L248.3,677.59 L248.8,677.38 L249.3,677.18 L249.8,677.14 L250.3,677.21 L250.8,677.22 L251.3,677.27 L251.8,677.45 L252.3,677.62 L252.8,677.77 L253.3,677.60 L253.8,677.48 L254.3,677.28 L254.8,677.26 L255.3,677.28 L255.8,677.53 L256.3,677.49 L256.8,677.57 L257.3,677.40 L257.8,677.37 L258.3,677.20 L258.8,677.37 L259.3,677.53 L259.8,677.67 L260.3,677.60 L260.8,677.63 L261.3,677.46 L261.8,677.45 L262.3,677.39 L262.8,673.57 L263.3,670.07 L263.8,670.30 L264.3,674.38 L264.8,677.51 L265.3,677.51 L265.8,677.38 L266.3,677.44 L266.8,677.30 L267.3,677.46 L267.8,677.62 L268.3,677.58 L268.8,677.55 L269.3,677.47 L269.8,677.50 L270.3,677.44 L270.8,677.23 L271.3,677.02 L271.8,676.80 L272.3,677.02 L272.8,677.23 L273.3,677.56 L273.8,677.51 L274.3,677.45 L274.8,677.41 L275.3,677.43 L275.8,677.38 L276.3,677.33 L276.8,677.26 L277.3,677.26 L277.8,677.23 L278.3,677.39 L278.8,677.57 L279.3,677.64 L279.8,677.54 L280.3,677.38 L280.8,677.31 L281.3,677.24 L281.8,677.11 L282.3,677.24 L282.8,677.31 L283.3,677.38 L283.8,677.47 L284.3,677.54 L284.8,677.45 L285.3,677.32 L285.8,677.22 L286.3,677.18 L286.8,677.30 L287.3,677.28 L287.8,677.24 L288.3,677.14 L288.8,677.33 L289.3,677.42 L289.8,677.54 L290.3,677.38 L290.8,677.31 L291.3,677.17 L291.8,677.33 L292.3,677.45 L292.8,677.58 L293.3,677.60 L293.8,677.48 L294.3,677.54 L294.8,677.31 L295.3,677.17 L295.8,677.03 L296.3,676.89 L296.8,677.03 L297.3,677.17 L297.8,677.31 L298.3,677.27 L298.8,677.29 L299.3,677.28 L299.8,677.28 L300.3,677.43 L300.8,677.57 L301.3,677.76 L301.8,677.66 L302.3,677.63 L302.8,677.55 L303.3,677.40 L303.8,677.48 L304.3,677.51 L304.8,677.61 L305.3,677.51 L305.8,677.33 L306.3,677.31 L306.8,677.33 L307.3,677.15 L307.8,676.85 L308.3,677.15 L308.8,677.55 L309.3,677.37 L309.8,677.34 L310.3,677.36 L310.8,677.37 L311.3,677.31 L311.8,677.29 L312.3,677.47 L312.8,677.59 L313.3,677.61 L313.8,677.63 L314.3,677.47 L314.8,677.31 L315.3,677.30 L315.8,677.37 L316.3,677.40 L316.8,677.24 L317.3,677.37 L317.8,677.51 L318.3,677.73 L318.8,677.64 L319.3,677.57 L319.8,677.44 L320.3,677.44 L320.8,677.50 L321.3,677.49 L321.8,677.56 L322.3,677.44 L322.8,677.38 L323.3,677.33 L323.8,677.38 L324.3,677.57 L324.8,677.56 L325.3,677.47 L325.8,677.33 L326.3,677.33 L326.8,677.39 L327.3,677.38 L327.8,677.34 L328.3,677.51 L328.8,677.60 L329.3,677.67 L329.8,677.54 L330.3,677.30 L330.8,677.16 L331.3,677.01 L331.8,677.16 L332.3,677.30 L332.8,677.27 L333.3,677.34 L333.8,677.43 L334.3,677.17 L334.8,676.02 L335.3,673.85 L335.8,675.40 L336.3,677.20 L336.8,677.17 L337.3,677.19 L337.8,677.39 L338.3,677.59 L338.8,677.50 L339.3,677.31 L339.8,677.14 L340.3,677.15 L340.8,675.68 L341.3,674.19 L341.8,675.43 L342.3,677.14 L342.8,677.33 L343.3,677.47 L343.8,677.51 L344.3,677.42 L344.8,677.21 L345.3,677.23 L345.8,677.31 L346.3,677.37 L346.8,677.34 L347.3,677.30 L347.8,677.41 L348.3,677.38 L348.8,677.35 L349.3,677.29 L349.8,677.43 L350.3,677.41 L350.8,677.33 L351.3,677.24 L351.8,677.23 L352.3,677.30 L352.8,677.44 L353.3,677.47 L353.8,677.59 L354.3,677.44 L354.8,677.40 L355.3,677.22 L355.8,677.38 L356.3,677.44 L356.8,677.49 L357.3,677.46 L357.8,677.52 L358.3,677.66 L358.8,677.56 L359.3,677.45 L359.8,677.44 L360.3,677.56 L360.8,677.70 L361.3,677.49 L361.8,677.29 L362.3,677.14 L362.8,677.22 L363.3,677.32 L363.8,677.46 L364.3,677.39 L364.8,676.82 L365.3,673.60 L365.8,669.56 L366.3,673.14 L366.8,676.84 L367.3,677.44 L367.8,677.38 L368.3,677.38 L368.8,677.27 L369.3,677.38 L369.8,677.29 L370.3,677.38 L370.8,677.33 L371.3,677.46 L371.8,677.40 L372.3,677.50 L372.8,677.50 L373.3,677.19 L373.8,676.94 L374.3,676.68 L374.8,676.94 L375.3,677.19 L375.8,677.37 L376.3,677.45 L376.8,677.27 L377.3,677.34 L377.8,677.39 L378.3,677.44 L378.8,677.31 L379.3,677.24 L379.8,677.34 L380.3,677.35 L380.8,677.30 L381.3,677.24 L381.8,677.23 L382.3,677.40 L382.8,677.53 L383.3,677.58 L383.8,677.64 L384.3,677.27 L384.8,677.09 L385.3,676.90 L385.8,677.09 L386.3,677.27 L386.8,674.24 L387.3,668.85 L387.8,669.69 L388.3,675.12 L388.8,677.47 L389.3,677.50 L389.8,677.38 L390.3,677.49 L390.8,677.28 L391.3,677.49 L391.8,677.58 L392.3,677.56 L392.8,677.35 L393.3,677.13 L393.8,677.25 L394.3,677.22 L394.8,677.35 L395.3,677.45 L395.8,677.66 L396.3,677.68 L396.8,677.65 L397.3,677.45 L397.8,677.48 L398.3,677.45 L398.8,677.61 L399.3,677.46 L399.8,677.43 L400.3,677.43 L400.8,677.54 L401.3,677.51 L401.8,677.46 L402.3,677.33 L402.8,677.29 L403.3,675.86 L403.8,674.15 L404.3,676.16 L404.8,677.42 L405.3,677.28 L405.8,677.11 L406.3,676.94 L406.8,677.11 L407.3,677.28 L407.8,677.29 L408.3,677.24 L408.8,677.28 L409.3,677.40 L409.8,677.35 L410.3,677.39 L410.8,677.45 L411.3,677.54 L411.8,677.44 L412.3,677.34 L412.8,677.29 L413.3,677.40 L413.8,677.37 L414.3,677.52 L414.8,677.65 L415.3,677.63 L415.8,677.65 L416.3,677.44 L416.8,677.56 L417.3,677.47 L417.8,677.44 L418.3,677.43 L418.8,677.31 L419.3,677.30 L419.8,677.27 L420.3,677.37 L420.8,677.53 L421.3,677.49 L421.8,677.47 L422.3,677.43 L422.8,677.46 L423.3,677.47 L423.8,677.46 L424.3,677.31 L424.8,677.33 L425.3,677.42 L425.8,677.42 L426.3,677.47 L426.8,677.08 L427.3,676.71 L427.8,677.08 L428.3,677.46 L428.8,677.32 L429.3,677.33 L429.8,677.24 L430.3,677.37 L430.8,677.42 L431.3,677.63 L431.8,677.47 L432.3,677.41 L432.8,677.36 L433.3,677.41 L433.8,677.59 L434.3,677.18 L434.8,674.56 L435.3,672.38 L435.8,675.00 L436.3,677.32 L436.8,677.40 L437.3,677.46 L437.8,677.51 L438.3,677.47 L438.8,677.57 L439.3,677.44 L439.8,677.44 L440.3,677.44 L440.8,677.59 L441.3,677.69 L441.8,677.51 L442.3,677.58 L442.8,677.49 L443.3,677.47 L443.8,677.44 L444.3,677.49 L444.8,677.49 L445.3,677.29 L445.8,677.21 L446.3,677.22 L446.8,677.25 L447.3,677.24 L447.8,677.30 L448.3,677.31 L448.8,677.42 L449.3,677.53 L449.8,677.59 L450.3,677.59 L450.8,677.40 L451.3,677.30 L451.8,677.26 L452.3,677.35 L452.8,677.50 L453.3,677.40 L453.8,677.36 L454.3,677.23 L454.8,677.41 L455.3,677.44 L455.8,677.60 L456.3,677.35 L456.8,675.49 L457.3,675.82 L457.8,677.56 L458.3,677.53 L458.8,677.44 L459.3,677.50 L459.8,677.50 L460.3,677.35 L460.8,677.33 L461.3,677.37 L461.8,677.41 L462.3,676.86 L462.8,674.68 L463.3,672.19 L463.8,674.35 L464.3,676.87 L464.8,677.20 L465.3,677.36 L465.8,677.55 L466.3,677.50 L466.8,677.55 L467.3,677.42 L467.8,677.49 L468.3,677.35 L468.8,677.36 L469.3,677.28 L469.8,677.28 L470.3,677.28 L470.8,677.38 L471.3,677.37 L471.3,678.25 Z" fill="#e2455a"/>
<rect x="142.5" y="563.8" width="5.2" height="124.2" fill="none" stroke="#111" stroke-width="0.7" stroke-dasharray="1.1,0.5"/>
<rect x="161" y="563.8" width="5.8" height="124.2" fill="none" stroke="#111" stroke-width="0.7" stroke-dasharray="1.1,0.5"/>
<rect x="197.8" y="563.8" width="5.2" height="124.2" fill="none" stroke="#111" stroke-width="0.7" stroke-dasharray="1.1,0.5"/>
<rect x="201.2" y="563.8" width="6.5" height="124.2" fill="none" stroke="#111" stroke-width="0.7" stroke-dasharray="1.1,0.5"/>
<rect x="261.2" y="563.8" width="5.8" height="124.2" fill="none" stroke="#111" stroke-width="0.7" stroke-dasharray="1.1,0.5"/>
<rect x="439.3" y="563.8" width="6.2" height="124.2" fill="none" stroke="#111" stroke-width="0.7" stroke-dasharray="1.1,0.5"/>
<rect x="460.9" y="563.8" width="5.7" height="124.2" fill="none" stroke="#111" stroke-width="0.7" stroke-dasharray="1.1,0.5"/>
<rect x="0.5" y="0.5" width="519" height="709" fill="none" stroke="#000" stroke-width="1.2"/>
</svg>
</body></html>
